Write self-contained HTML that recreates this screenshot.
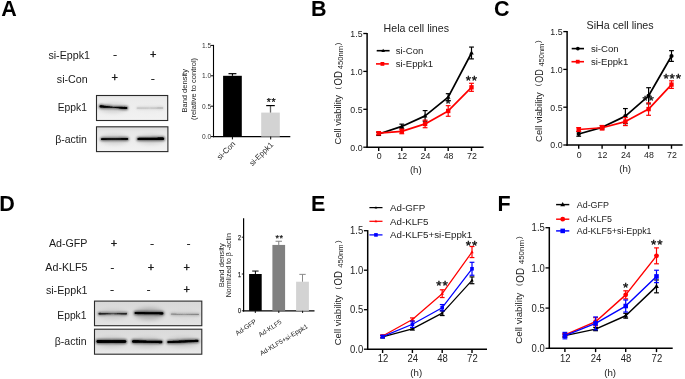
<!DOCTYPE html>
<html><head><meta charset="utf-8"><style>
html,body{margin:0;padding:0;background:#fff;overflow:hidden;width:685px;height:379px;}
svg{display:block;font-family:"Liberation Sans", sans-serif;will-change:transform;}
</style></head><body>
<svg width="685" height="379" viewBox="0 0 685 379">
<defs>
<linearGradient id="bgA1" x1="0" y1="0" x2="0" y2="1">
<stop offset="0" stop-color="#e2e2e2"/><stop offset="0.12" stop-color="#ebebeb"/><stop offset="1" stop-color="#f2f2f2"/>
</linearGradient>
<linearGradient id="bgA2" x1="0" y1="0" x2="0" y2="1">
<stop offset="0" stop-color="#dadada"/><stop offset="0.2" stop-color="#e7e7e7"/><stop offset="1" stop-color="#f2f2f2"/>
</linearGradient>
<linearGradient id="bgD1" x1="0" y1="0" x2="0" y2="1">
<stop offset="0" stop-color="#d8d8d8"/><stop offset="0.5" stop-color="#dedede"/><stop offset="1" stop-color="#e3e3e3"/>
</linearGradient>
<linearGradient id="bgD2" x1="0" y1="0" x2="0" y2="1">
<stop offset="0" stop-color="#dadada"/><stop offset="0.8" stop-color="#e3e3e3"/><stop offset="1" stop-color="#ebebeb"/>
</linearGradient>
<filter id="hb" x="-30%" y="-100%" width="160%" height="300%"><feGaussianBlur stdDeviation="2.2"/></filter>
<filter id="cb" x="-15%" y="-150%" width="130%" height="400%"><feGaussianBlur stdDeviation="0.45"/></filter>
<filter id="sb" x="-15%" y="-150%" width="130%" height="400%"><feGaussianBlur stdDeviation="1.1"/></filter>
<filter id="bl9" x="-20%" y="-200%" width="140%" height="500%"><feGaussianBlur stdDeviation="0.9"/></filter>
<filter id="bl6" x="-20%" y="-200%" width="140%" height="500%"><feGaussianBlur stdDeviation="0.6"/></filter>
<filter id="bl12" x="-20%" y="-200%" width="140%" height="500%"><feGaussianBlur stdDeviation="1.2"/></filter>
</defs>
<rect x="0" y="0" width="685" height="379" fill="#fff"/>
<text x="1.15" y="15.5" font-size="21.5" text-anchor="start" font-weight="bold" fill="#000">A</text>
<text x="310.9" y="15.5" font-size="21.5" text-anchor="start" font-weight="bold" fill="#000">B</text>
<text x="494.1" y="15.5" font-size="21.5" text-anchor="start" font-weight="bold" fill="#000">C</text>
<text x="-0.7" y="210.6" font-size="21.5" text-anchor="start" font-weight="bold" fill="#000">D</text>
<text x="310.9" y="210.7" font-size="21.5" text-anchor="start" font-weight="bold" fill="#000">E</text>
<text x="497.6" y="210.7" font-size="21.5" text-anchor="start" font-weight="bold" fill="#000">F</text>
<text x="48.4" y="59.3" font-size="10.7" text-anchor="start" font-weight="normal" fill="#1a1a1a">si-Eppk1</text>
<text x="56.8" y="82.6" font-size="10.7" text-anchor="start" font-weight="normal" fill="#1a1a1a">si-Con</text>
<text x="115" y="58.4" font-size="11" text-anchor="middle" font-weight="normal" fill="#1a1a1a" stroke="#1a1a1a" stroke-width="0.35">-</text>
<text x="153.1" y="58.0" font-size="11" text-anchor="middle" font-weight="normal" fill="#1a1a1a" stroke="#1a1a1a" stroke-width="0.35">+</text>
<text x="114.8" y="81.2" font-size="11" text-anchor="middle" font-weight="normal" fill="#1a1a1a" stroke="#1a1a1a" stroke-width="0.35">+</text>
<text x="152.8" y="81.6" font-size="11" text-anchor="middle" font-weight="normal" fill="#1a1a1a" stroke="#1a1a1a" stroke-width="0.35">-</text>
<text x="86.9" y="110.8" font-size="10.3" text-anchor="end" font-weight="normal" fill="#1a1a1a">Eppk1</text>
<text x="86.9" y="143.4" font-size="10.5" text-anchor="end" font-weight="normal" fill="#1a1a1a">β-actin</text>
<rect x="96.5" y="95.5" width="71.2" height="25" fill="url(#bgA1)" stroke="#2a2a2a" stroke-width="1.1"/>
<rect x="96.5" y="126.8" width="71.4" height="24.8" fill="url(#bgA2)" stroke="#2a2a2a" stroke-width="1.1"/>
<ellipse cx="113.44999999999999" cy="107.9" rx="14.350000000000001" ry="4.5" fill="#000" opacity="0.13" filter="url(#hb)"/>
<g fill="#000" opacity="0.55" filter="url(#sb)"><circle cx="100.60" cy="106.40" r="2.05"/><circle cx="101.28" cy="106.45" r="2.01"/><circle cx="101.95" cy="106.50" r="1.97"/><circle cx="102.63" cy="106.56" r="1.92"/><circle cx="103.31" cy="106.61" r="1.88"/><circle cx="103.98" cy="106.66" r="1.84"/><circle cx="104.66" cy="106.71" r="1.80"/><circle cx="105.33" cy="106.75" r="1.76"/><circle cx="106.01" cy="106.80" r="1.71"/><circle cx="106.69" cy="106.85" r="1.67"/><circle cx="107.36" cy="106.90" r="1.63"/><circle cx="108.04" cy="106.95" r="1.59"/><circle cx="108.72" cy="106.99" r="1.54"/><circle cx="109.39" cy="107.04" r="1.50"/><circle cx="110.07" cy="107.08" r="1.46"/><circle cx="110.74" cy="107.13" r="1.42"/><circle cx="111.42" cy="107.17" r="1.38"/><circle cx="112.10" cy="107.21" r="1.33"/><circle cx="112.77" cy="107.26" r="1.29"/><circle cx="113.45" cy="107.30" r="1.25"/><circle cx="114.13" cy="107.34" r="1.29"/><circle cx="114.80" cy="107.38" r="1.33"/><circle cx="115.48" cy="107.42" r="1.37"/><circle cx="116.16" cy="107.46" r="1.41"/><circle cx="116.83" cy="107.50" r="1.45"/><circle cx="117.51" cy="107.54" r="1.49"/><circle cx="118.18" cy="107.58" r="1.53"/><circle cx="118.86" cy="107.62" r="1.57"/><circle cx="119.54" cy="107.66" r="1.61"/><circle cx="120.21" cy="107.69" r="1.64"/><circle cx="120.89" cy="107.73" r="1.68"/><circle cx="121.57" cy="107.77" r="1.72"/><circle cx="122.24" cy="107.80" r="1.76"/><circle cx="122.92" cy="107.84" r="1.80"/><circle cx="123.59" cy="107.87" r="1.84"/><circle cx="124.27" cy="107.90" r="1.88"/><circle cx="124.95" cy="107.94" r="1.92"/><circle cx="125.62" cy="107.97" r="1.96"/><circle cx="126.30" cy="108.00" r="2.00"/></g>
<g fill="#000" opacity="1.0" filter="url(#cb)"><circle cx="100.60" cy="106.40" r="1.16"/><circle cx="101.28" cy="106.45" r="1.13"/><circle cx="101.95" cy="106.50" r="1.09"/><circle cx="102.63" cy="106.56" r="1.06"/><circle cx="103.31" cy="106.61" r="1.03"/><circle cx="103.98" cy="106.66" r="0.99"/><circle cx="104.66" cy="106.71" r="0.96"/><circle cx="105.33" cy="106.75" r="0.92"/><circle cx="106.01" cy="106.80" r="0.89"/><circle cx="106.69" cy="106.85" r="0.86"/><circle cx="107.36" cy="106.90" r="0.82"/><circle cx="108.04" cy="106.95" r="0.79"/><circle cx="108.72" cy="106.99" r="0.76"/><circle cx="109.39" cy="107.04" r="0.72"/><circle cx="110.07" cy="107.08" r="0.69"/><circle cx="110.74" cy="107.13" r="0.65"/><circle cx="111.42" cy="107.17" r="0.62"/><circle cx="112.10" cy="107.21" r="0.59"/><circle cx="112.77" cy="107.26" r="0.55"/><circle cx="113.45" cy="107.30" r="0.52"/><circle cx="114.13" cy="107.34" r="0.55"/><circle cx="114.80" cy="107.38" r="0.58"/><circle cx="115.48" cy="107.42" r="0.61"/><circle cx="116.16" cy="107.46" r="0.65"/><circle cx="116.83" cy="107.50" r="0.68"/><circle cx="117.51" cy="107.54" r="0.71"/><circle cx="118.18" cy="107.58" r="0.74"/><circle cx="118.86" cy="107.62" r="0.77"/><circle cx="119.54" cy="107.66" r="0.80"/><circle cx="120.21" cy="107.69" r="0.84"/><circle cx="120.89" cy="107.73" r="0.87"/><circle cx="121.57" cy="107.77" r="0.90"/><circle cx="122.24" cy="107.80" r="0.93"/><circle cx="122.92" cy="107.84" r="0.96"/><circle cx="123.59" cy="107.87" r="0.99"/><circle cx="124.27" cy="107.90" r="1.03"/><circle cx="124.95" cy="107.94" r="1.06"/><circle cx="125.62" cy="107.97" r="1.09"/><circle cx="126.30" cy="108.00" r="1.12"/></g>
<ellipse cx="149.9" cy="108.5" rx="14.099999999999994" ry="4.5" fill="#000" opacity="0.0096" filter="url(#hb)"/>
<g fill="#000" opacity="0.08800000000000001" filter="url(#sb)"><circle cx="137.30" cy="108.00" r="1.35"/><circle cx="137.98" cy="108.00" r="1.34"/><circle cx="138.66" cy="108.00" r="1.33"/><circle cx="139.34" cy="108.00" r="1.33"/><circle cx="140.02" cy="108.00" r="1.32"/><circle cx="140.71" cy="108.00" r="1.31"/><circle cx="141.39" cy="108.00" r="1.30"/><circle cx="142.07" cy="108.00" r="1.29"/><circle cx="142.75" cy="108.00" r="1.29"/><circle cx="143.43" cy="108.00" r="1.28"/><circle cx="144.11" cy="108.00" r="1.27"/><circle cx="144.79" cy="108.00" r="1.26"/><circle cx="145.47" cy="108.00" r="1.25"/><circle cx="146.15" cy="108.00" r="1.24"/><circle cx="146.84" cy="108.00" r="1.24"/><circle cx="147.52" cy="108.00" r="1.23"/><circle cx="148.20" cy="108.00" r="1.22"/><circle cx="148.88" cy="108.00" r="1.21"/><circle cx="149.56" cy="108.00" r="1.20"/><circle cx="150.24" cy="108.00" r="1.21"/><circle cx="150.92" cy="108.00" r="1.22"/><circle cx="151.60" cy="108.00" r="1.24"/><circle cx="152.28" cy="108.00" r="1.26"/><circle cx="152.96" cy="108.00" r="1.27"/><circle cx="153.65" cy="108.00" r="1.29"/><circle cx="154.33" cy="108.00" r="1.31"/><circle cx="155.01" cy="108.00" r="1.32"/><circle cx="155.69" cy="108.00" r="1.34"/><circle cx="156.37" cy="108.00" r="1.35"/><circle cx="157.05" cy="108.00" r="1.37"/><circle cx="157.73" cy="108.00" r="1.39"/><circle cx="158.41" cy="108.00" r="1.40"/><circle cx="159.09" cy="108.00" r="1.42"/><circle cx="159.78" cy="108.00" r="1.44"/><circle cx="160.46" cy="108.00" r="1.45"/><circle cx="161.14" cy="108.00" r="1.47"/><circle cx="161.82" cy="108.00" r="1.48"/><circle cx="162.50" cy="108.00" r="1.50"/></g>
<g fill="#000" opacity="0.16" filter="url(#cb)"><circle cx="137.30" cy="108.00" r="0.60"/><circle cx="137.98" cy="108.00" r="0.59"/><circle cx="138.66" cy="108.00" r="0.59"/><circle cx="139.34" cy="108.00" r="0.58"/><circle cx="140.02" cy="108.00" r="0.57"/><circle cx="140.71" cy="108.00" r="0.57"/><circle cx="141.39" cy="108.00" r="0.56"/><circle cx="142.07" cy="108.00" r="0.55"/><circle cx="142.75" cy="108.00" r="0.55"/><circle cx="143.43" cy="108.00" r="0.54"/><circle cx="144.11" cy="108.00" r="0.54"/><circle cx="144.79" cy="108.00" r="0.53"/><circle cx="145.47" cy="108.00" r="0.52"/><circle cx="146.15" cy="108.00" r="0.52"/><circle cx="146.84" cy="108.00" r="0.51"/><circle cx="147.52" cy="108.00" r="0.50"/><circle cx="148.20" cy="108.00" r="0.50"/><circle cx="148.88" cy="108.00" r="0.49"/><circle cx="149.56" cy="108.00" r="0.48"/><circle cx="150.24" cy="108.00" r="0.49"/><circle cx="150.92" cy="108.00" r="0.50"/><circle cx="151.60" cy="108.00" r="0.51"/><circle cx="152.28" cy="108.00" r="0.53"/><circle cx="152.96" cy="108.00" r="0.54"/><circle cx="153.65" cy="108.00" r="0.55"/><circle cx="154.33" cy="108.00" r="0.56"/><circle cx="155.01" cy="108.00" r="0.58"/><circle cx="155.69" cy="108.00" r="0.59"/><circle cx="156.37" cy="108.00" r="0.60"/><circle cx="157.05" cy="108.00" r="0.62"/><circle cx="157.73" cy="108.00" r="0.63"/><circle cx="158.41" cy="108.00" r="0.64"/><circle cx="159.09" cy="108.00" r="0.66"/><circle cx="159.78" cy="108.00" r="0.67"/><circle cx="160.46" cy="108.00" r="0.68"/><circle cx="161.14" cy="108.00" r="0.69"/><circle cx="161.82" cy="108.00" r="0.71"/><circle cx="162.50" cy="108.00" r="0.72"/></g>
<ellipse cx="114.55" cy="139.5" rx="14.25" ry="4.5" fill="#000" opacity="0.13" filter="url(#hb)"/>
<g fill="#000" opacity="0.55" filter="url(#sb)"><circle cx="101.80" cy="139.10" r="1.70"/><circle cx="102.47" cy="139.09" r="1.69"/><circle cx="103.14" cy="139.09" r="1.68"/><circle cx="103.81" cy="139.08" r="1.67"/><circle cx="104.48" cy="139.08" r="1.66"/><circle cx="105.16" cy="139.07" r="1.65"/><circle cx="105.83" cy="139.07" r="1.64"/><circle cx="106.50" cy="139.06" r="1.63"/><circle cx="107.17" cy="139.06" r="1.62"/><circle cx="107.84" cy="139.05" r="1.61"/><circle cx="108.51" cy="139.05" r="1.59"/><circle cx="109.18" cy="139.04" r="1.58"/><circle cx="109.85" cy="139.04" r="1.57"/><circle cx="110.52" cy="139.03" r="1.56"/><circle cx="111.19" cy="139.03" r="1.55"/><circle cx="111.87" cy="139.02" r="1.54"/><circle cx="112.54" cy="139.02" r="1.53"/><circle cx="113.21" cy="139.01" r="1.52"/><circle cx="113.88" cy="139.01" r="1.51"/><circle cx="114.55" cy="139.00" r="1.50"/><circle cx="115.22" cy="138.99" r="1.51"/><circle cx="115.89" cy="138.99" r="1.53"/><circle cx="116.56" cy="138.98" r="1.54"/><circle cx="117.23" cy="138.98" r="1.55"/><circle cx="117.91" cy="138.97" r="1.57"/><circle cx="118.58" cy="138.97" r="1.58"/><circle cx="119.25" cy="138.96" r="1.59"/><circle cx="119.92" cy="138.96" r="1.61"/><circle cx="120.59" cy="138.95" r="1.62"/><circle cx="121.26" cy="138.95" r="1.63"/><circle cx="121.93" cy="138.94" r="1.64"/><circle cx="122.60" cy="138.94" r="1.66"/><circle cx="123.27" cy="138.93" r="1.67"/><circle cx="123.94" cy="138.93" r="1.68"/><circle cx="124.62" cy="138.92" r="1.70"/><circle cx="125.29" cy="138.92" r="1.71"/><circle cx="125.96" cy="138.91" r="1.72"/><circle cx="126.63" cy="138.91" r="1.74"/><circle cx="127.30" cy="138.90" r="1.75"/></g>
<g fill="#000" opacity="1.0" filter="url(#cb)"><circle cx="101.80" cy="139.10" r="0.88"/><circle cx="102.47" cy="139.09" r="0.87"/><circle cx="103.14" cy="139.09" r="0.86"/><circle cx="103.81" cy="139.08" r="0.85"/><circle cx="104.48" cy="139.08" r="0.85"/><circle cx="105.16" cy="139.07" r="0.84"/><circle cx="105.83" cy="139.07" r="0.83"/><circle cx="106.50" cy="139.06" r="0.82"/><circle cx="107.17" cy="139.06" r="0.81"/><circle cx="107.84" cy="139.05" r="0.80"/><circle cx="108.51" cy="139.05" r="0.80"/><circle cx="109.18" cy="139.04" r="0.79"/><circle cx="109.85" cy="139.04" r="0.78"/><circle cx="110.52" cy="139.03" r="0.77"/><circle cx="111.19" cy="139.03" r="0.76"/><circle cx="111.87" cy="139.02" r="0.75"/><circle cx="112.54" cy="139.02" r="0.75"/><circle cx="113.21" cy="139.01" r="0.74"/><circle cx="113.88" cy="139.01" r="0.73"/><circle cx="114.55" cy="139.00" r="0.72"/><circle cx="115.22" cy="138.99" r="0.73"/><circle cx="115.89" cy="138.99" r="0.74"/><circle cx="116.56" cy="138.98" r="0.75"/><circle cx="117.23" cy="138.98" r="0.76"/><circle cx="117.91" cy="138.97" r="0.77"/><circle cx="118.58" cy="138.97" r="0.78"/><circle cx="119.25" cy="138.96" r="0.79"/><circle cx="119.92" cy="138.96" r="0.80"/><circle cx="120.59" cy="138.95" r="0.81"/><circle cx="121.26" cy="138.95" r="0.83"/><circle cx="121.93" cy="138.94" r="0.84"/><circle cx="122.60" cy="138.94" r="0.85"/><circle cx="123.27" cy="138.93" r="0.86"/><circle cx="123.94" cy="138.93" r="0.87"/><circle cx="124.62" cy="138.92" r="0.88"/><circle cx="125.29" cy="138.92" r="0.89"/><circle cx="125.96" cy="138.91" r="0.90"/><circle cx="126.63" cy="138.91" r="0.91"/><circle cx="127.30" cy="138.90" r="0.92"/></g>
<ellipse cx="150.65" cy="139.4" rx="13.75" ry="4.5" fill="#000" opacity="0.13" filter="url(#hb)"/>
<g fill="#000" opacity="0.55" filter="url(#sb)"><circle cx="138.40" cy="139.00" r="2.00"/><circle cx="139.08" cy="138.99" r="2.00"/><circle cx="139.76" cy="138.99" r="2.00"/><circle cx="140.44" cy="138.98" r="2.00"/><circle cx="141.12" cy="138.98" r="2.00"/><circle cx="141.80" cy="138.97" r="2.00"/><circle cx="142.48" cy="138.97" r="2.00"/><circle cx="143.16" cy="138.96" r="2.00"/><circle cx="143.84" cy="138.96" r="2.00"/><circle cx="144.53" cy="138.95" r="2.00"/><circle cx="145.21" cy="138.94" r="2.00"/><circle cx="145.89" cy="138.94" r="2.00"/><circle cx="146.57" cy="138.93" r="2.00"/><circle cx="147.25" cy="138.93" r="2.00"/><circle cx="147.93" cy="138.92" r="2.00"/><circle cx="148.61" cy="138.92" r="2.00"/><circle cx="149.29" cy="138.91" r="2.00"/><circle cx="149.97" cy="138.91" r="2.00"/><circle cx="150.65" cy="138.90" r="2.00"/><circle cx="151.33" cy="138.89" r="2.01"/><circle cx="152.01" cy="138.89" r="2.02"/><circle cx="152.69" cy="138.88" r="2.03"/><circle cx="153.37" cy="138.88" r="2.04"/><circle cx="154.05" cy="138.87" r="2.06"/><circle cx="154.73" cy="138.87" r="2.07"/><circle cx="155.41" cy="138.86" r="2.08"/><circle cx="156.09" cy="138.86" r="2.09"/><circle cx="156.78" cy="138.85" r="2.10"/><circle cx="157.46" cy="138.84" r="2.11"/><circle cx="158.14" cy="138.84" r="2.12"/><circle cx="158.82" cy="138.83" r="2.13"/><circle cx="159.50" cy="138.83" r="2.14"/><circle cx="160.18" cy="138.82" r="2.16"/><circle cx="160.86" cy="138.82" r="2.17"/><circle cx="161.54" cy="138.81" r="2.18"/><circle cx="162.22" cy="138.81" r="2.19"/><circle cx="162.90" cy="138.80" r="2.20"/></g>
<g fill="#000" opacity="1.0" filter="url(#cb)"><circle cx="138.40" cy="139.00" r="1.12"/><circle cx="139.08" cy="138.99" r="1.12"/><circle cx="139.76" cy="138.99" r="1.12"/><circle cx="140.44" cy="138.98" r="1.12"/><circle cx="141.12" cy="138.98" r="1.12"/><circle cx="141.80" cy="138.97" r="1.12"/><circle cx="142.48" cy="138.97" r="1.12"/><circle cx="143.16" cy="138.96" r="1.12"/><circle cx="143.84" cy="138.96" r="1.12"/><circle cx="144.53" cy="138.95" r="1.12"/><circle cx="145.21" cy="138.94" r="1.12"/><circle cx="145.89" cy="138.94" r="1.12"/><circle cx="146.57" cy="138.93" r="1.12"/><circle cx="147.25" cy="138.93" r="1.12"/><circle cx="147.93" cy="138.92" r="1.12"/><circle cx="148.61" cy="138.92" r="1.12"/><circle cx="149.29" cy="138.91" r="1.12"/><circle cx="149.97" cy="138.91" r="1.12"/><circle cx="150.65" cy="138.90" r="1.12"/><circle cx="151.33" cy="138.89" r="1.13"/><circle cx="152.01" cy="138.89" r="1.14"/><circle cx="152.69" cy="138.88" r="1.15"/><circle cx="153.37" cy="138.88" r="1.16"/><circle cx="154.05" cy="138.87" r="1.16"/><circle cx="154.73" cy="138.87" r="1.17"/><circle cx="155.41" cy="138.86" r="1.18"/><circle cx="156.09" cy="138.86" r="1.19"/><circle cx="156.78" cy="138.85" r="1.20"/><circle cx="157.46" cy="138.84" r="1.21"/><circle cx="158.14" cy="138.84" r="1.22"/><circle cx="158.82" cy="138.83" r="1.23"/><circle cx="159.50" cy="138.83" r="1.24"/><circle cx="160.18" cy="138.82" r="1.24"/><circle cx="160.86" cy="138.82" r="1.25"/><circle cx="161.54" cy="138.81" r="1.26"/><circle cx="162.22" cy="138.81" r="1.27"/><circle cx="162.90" cy="138.80" r="1.28"/></g>
<text x="87.5" y="247.3" font-size="10.7" text-anchor="end" font-weight="normal" fill="#1a1a1a">Ad-GFP</text>
<text x="87.5" y="270.9" font-size="10.7" text-anchor="end" font-weight="normal" fill="#1a1a1a">Ad-KLF5</text>
<text x="87.5" y="293.6" font-size="10.7" text-anchor="end" font-weight="normal" fill="#1a1a1a">si-Eppk1</text>
<text x="114" y="246.9" font-size="11" text-anchor="middle" font-weight="normal" fill="#1a1a1a" stroke="#1a1a1a" stroke-width="0.35">+</text>
<text x="152" y="246.9" font-size="11" text-anchor="middle" font-weight="normal" fill="#1a1a1a" stroke="#1a1a1a" stroke-width="0.35">-</text>
<text x="188.7" y="246.9" font-size="11" text-anchor="middle" font-weight="normal" fill="#1a1a1a" stroke="#1a1a1a" stroke-width="0.35">-</text>
<text x="112.4" y="270.5" font-size="11" text-anchor="middle" font-weight="normal" fill="#1a1a1a" stroke="#1a1a1a" stroke-width="0.35">-</text>
<text x="150.9" y="270.5" font-size="11" text-anchor="middle" font-weight="normal" fill="#1a1a1a" stroke="#1a1a1a" stroke-width="0.35">+</text>
<text x="186.6" y="270.5" font-size="11" text-anchor="middle" font-weight="normal" fill="#1a1a1a" stroke="#1a1a1a" stroke-width="0.35">+</text>
<text x="112" y="293.20000000000005" font-size="11" text-anchor="middle" font-weight="normal" fill="#1a1a1a" stroke="#1a1a1a" stroke-width="0.35">-</text>
<text x="148.7" y="293.20000000000005" font-size="11" text-anchor="middle" font-weight="normal" fill="#1a1a1a" stroke="#1a1a1a" stroke-width="0.35">-</text>
<text x="186.8" y="293.20000000000005" font-size="11" text-anchor="middle" font-weight="normal" fill="#1a1a1a" stroke="#1a1a1a" stroke-width="0.35">+</text>
<text x="86.5" y="319.2" font-size="10.3" text-anchor="end" font-weight="normal" fill="#1a1a1a">Eppk1</text>
<text x="86.5" y="345.4" font-size="10.5" text-anchor="end" font-weight="normal" fill="#1a1a1a">β-actin</text>
<rect x="94.5" y="301.1" width="107.3" height="24.6" fill="url(#bgD1)" stroke="#2a2a2a" stroke-width="1.1"/>
<rect x="94.5" y="329.2" width="107.3" height="25" fill="url(#bgD2)" stroke="#2a2a2a" stroke-width="1.1"/>
<ellipse cx="112.75" cy="314.2" rx="14.950000000000003" ry="4.5" fill="#000" opacity="0.0975" filter="url(#hb)"/>
<g fill="#000" opacity="0.41250000000000003" filter="url(#sb)"><circle cx="99.30" cy="313.70" r="1.70"/><circle cx="99.97" cy="313.70" r="1.67"/><circle cx="100.64" cy="313.70" r="1.65"/><circle cx="101.32" cy="313.70" r="1.62"/><circle cx="101.99" cy="313.70" r="1.59"/><circle cx="102.66" cy="313.70" r="1.56"/><circle cx="103.33" cy="313.70" r="1.54"/><circle cx="104.01" cy="313.70" r="1.51"/><circle cx="104.68" cy="313.70" r="1.48"/><circle cx="105.35" cy="313.70" r="1.45"/><circle cx="106.03" cy="313.70" r="1.43"/><circle cx="106.70" cy="313.70" r="1.40"/><circle cx="107.37" cy="313.70" r="1.37"/><circle cx="108.04" cy="313.70" r="1.34"/><circle cx="108.72" cy="313.70" r="1.31"/><circle cx="109.39" cy="313.70" r="1.29"/><circle cx="110.06" cy="313.70" r="1.26"/><circle cx="110.73" cy="313.70" r="1.23"/><circle cx="111.41" cy="313.70" r="1.21"/><circle cx="112.08" cy="313.70" r="1.18"/><circle cx="112.75" cy="313.70" r="1.15"/><circle cx="113.42" cy="313.70" r="1.18"/><circle cx="114.09" cy="313.70" r="1.20"/><circle cx="114.77" cy="313.70" r="1.23"/><circle cx="115.44" cy="313.70" r="1.25"/><circle cx="116.11" cy="313.70" r="1.27"/><circle cx="116.78" cy="313.70" r="1.30"/><circle cx="117.46" cy="313.70" r="1.33"/><circle cx="118.13" cy="313.70" r="1.35"/><circle cx="118.80" cy="313.70" r="1.38"/><circle cx="119.47" cy="313.70" r="1.40"/><circle cx="120.15" cy="313.70" r="1.43"/><circle cx="120.82" cy="313.70" r="1.45"/><circle cx="121.49" cy="313.70" r="1.48"/><circle cx="122.17" cy="313.70" r="1.50"/><circle cx="122.84" cy="313.70" r="1.52"/><circle cx="123.51" cy="313.70" r="1.55"/><circle cx="124.18" cy="313.70" r="1.58"/><circle cx="124.86" cy="313.70" r="1.60"/><circle cx="125.53" cy="313.70" r="1.62"/><circle cx="126.20" cy="313.70" r="1.65"/></g>
<g fill="#000" opacity="0.75" filter="url(#cb)"><circle cx="99.30" cy="313.70" r="0.88"/><circle cx="99.97" cy="313.70" r="0.86"/><circle cx="100.64" cy="313.70" r="0.84"/><circle cx="101.32" cy="313.70" r="0.81"/><circle cx="101.99" cy="313.70" r="0.79"/><circle cx="102.66" cy="313.70" r="0.77"/><circle cx="103.33" cy="313.70" r="0.75"/><circle cx="104.01" cy="313.70" r="0.73"/><circle cx="104.68" cy="313.70" r="0.70"/><circle cx="105.35" cy="313.70" r="0.68"/><circle cx="106.03" cy="313.70" r="0.66"/><circle cx="106.70" cy="313.70" r="0.64"/><circle cx="107.37" cy="313.70" r="0.62"/><circle cx="108.04" cy="313.70" r="0.59"/><circle cx="108.72" cy="313.70" r="0.57"/><circle cx="109.39" cy="313.70" r="0.55"/><circle cx="110.06" cy="313.70" r="0.53"/><circle cx="110.73" cy="313.70" r="0.51"/><circle cx="111.41" cy="313.70" r="0.48"/><circle cx="112.08" cy="313.70" r="0.46"/><circle cx="112.75" cy="313.70" r="0.44"/><circle cx="113.42" cy="313.70" r="0.46"/><circle cx="114.09" cy="313.70" r="0.48"/><circle cx="114.77" cy="313.70" r="0.50"/><circle cx="115.44" cy="313.70" r="0.52"/><circle cx="116.11" cy="313.70" r="0.54"/><circle cx="116.78" cy="313.70" r="0.56"/><circle cx="117.46" cy="313.70" r="0.58"/><circle cx="118.13" cy="313.70" r="0.60"/><circle cx="118.80" cy="313.70" r="0.62"/><circle cx="119.47" cy="313.70" r="0.64"/><circle cx="120.15" cy="313.70" r="0.66"/><circle cx="120.82" cy="313.70" r="0.68"/><circle cx="121.49" cy="313.70" r="0.70"/><circle cx="122.17" cy="313.70" r="0.72"/><circle cx="122.84" cy="313.70" r="0.74"/><circle cx="123.51" cy="313.70" r="0.76"/><circle cx="124.18" cy="313.70" r="0.78"/><circle cx="124.86" cy="313.70" r="0.80"/><circle cx="125.53" cy="313.70" r="0.82"/><circle cx="126.20" cy="313.70" r="0.84"/></g>
<ellipse cx="149.0" cy="313.7" rx="14.900000000000006" ry="6" fill="#000" opacity="0.22" filter="url(#hb)"/>
<g fill="#000" opacity="0.55" filter="url(#sb)"><circle cx="135.60" cy="313.00" r="2.00"/><circle cx="136.27" cy="313.01" r="1.99"/><circle cx="136.94" cy="313.02" r="1.98"/><circle cx="137.61" cy="313.03" r="1.97"/><circle cx="138.28" cy="313.04" r="1.96"/><circle cx="138.95" cy="313.05" r="1.95"/><circle cx="139.62" cy="313.06" r="1.94"/><circle cx="140.29" cy="313.07" r="1.93"/><circle cx="140.96" cy="313.08" r="1.92"/><circle cx="141.63" cy="313.09" r="1.91"/><circle cx="142.30" cy="313.10" r="1.90"/><circle cx="142.97" cy="313.11" r="1.89"/><circle cx="143.64" cy="313.12" r="1.88"/><circle cx="144.31" cy="313.13" r="1.87"/><circle cx="144.98" cy="313.14" r="1.86"/><circle cx="145.65" cy="313.15" r="1.85"/><circle cx="146.32" cy="313.16" r="1.84"/><circle cx="146.99" cy="313.17" r="1.83"/><circle cx="147.66" cy="313.18" r="1.82"/><circle cx="148.33" cy="313.19" r="1.81"/><circle cx="149.00" cy="313.20" r="1.80"/><circle cx="149.67" cy="313.21" r="1.81"/><circle cx="150.34" cy="313.22" r="1.81"/><circle cx="151.01" cy="313.23" r="1.81"/><circle cx="151.68" cy="313.24" r="1.82"/><circle cx="152.35" cy="313.25" r="1.83"/><circle cx="153.02" cy="313.26" r="1.83"/><circle cx="153.69" cy="313.27" r="1.83"/><circle cx="154.36" cy="313.28" r="1.84"/><circle cx="155.03" cy="313.29" r="1.84"/><circle cx="155.70" cy="313.30" r="1.85"/><circle cx="156.37" cy="313.31" r="1.85"/><circle cx="157.04" cy="313.32" r="1.86"/><circle cx="157.71" cy="313.33" r="1.86"/><circle cx="158.38" cy="313.34" r="1.87"/><circle cx="159.05" cy="313.35" r="1.88"/><circle cx="159.72" cy="313.36" r="1.88"/><circle cx="160.39" cy="313.37" r="1.89"/><circle cx="161.06" cy="313.38" r="1.89"/><circle cx="161.73" cy="313.39" r="1.90"/><circle cx="162.40" cy="313.40" r="1.90"/></g>
<g fill="#000" opacity="1.0" filter="url(#cb)"><circle cx="135.60" cy="313.00" r="1.12"/><circle cx="136.27" cy="313.01" r="1.11"/><circle cx="136.94" cy="313.02" r="1.10"/><circle cx="137.61" cy="313.03" r="1.10"/><circle cx="138.28" cy="313.04" r="1.09"/><circle cx="138.95" cy="313.05" r="1.08"/><circle cx="139.62" cy="313.06" r="1.07"/><circle cx="140.29" cy="313.07" r="1.06"/><circle cx="140.96" cy="313.08" r="1.06"/><circle cx="141.63" cy="313.09" r="1.05"/><circle cx="142.30" cy="313.10" r="1.04"/><circle cx="142.97" cy="313.11" r="1.03"/><circle cx="143.64" cy="313.12" r="1.02"/><circle cx="144.31" cy="313.13" r="1.02"/><circle cx="144.98" cy="313.14" r="1.01"/><circle cx="145.65" cy="313.15" r="1.00"/><circle cx="146.32" cy="313.16" r="0.99"/><circle cx="146.99" cy="313.17" r="0.98"/><circle cx="147.66" cy="313.18" r="0.98"/><circle cx="148.33" cy="313.19" r="0.97"/><circle cx="149.00" cy="313.20" r="0.96"/><circle cx="149.67" cy="313.21" r="0.96"/><circle cx="150.34" cy="313.22" r="0.97"/><circle cx="151.01" cy="313.23" r="0.97"/><circle cx="151.68" cy="313.24" r="0.98"/><circle cx="152.35" cy="313.25" r="0.98"/><circle cx="153.02" cy="313.26" r="0.98"/><circle cx="153.69" cy="313.27" r="0.99"/><circle cx="154.36" cy="313.28" r="0.99"/><circle cx="155.03" cy="313.29" r="1.00"/><circle cx="155.70" cy="313.30" r="1.00"/><circle cx="156.37" cy="313.31" r="1.00"/><circle cx="157.04" cy="313.32" r="1.01"/><circle cx="157.71" cy="313.33" r="1.01"/><circle cx="158.38" cy="313.34" r="1.02"/><circle cx="159.05" cy="313.35" r="1.02"/><circle cx="159.72" cy="313.36" r="1.02"/><circle cx="160.39" cy="313.37" r="1.03"/><circle cx="161.06" cy="313.38" r="1.03"/><circle cx="161.73" cy="313.39" r="1.04"/><circle cx="162.40" cy="313.40" r="1.04"/></g>
<ellipse cx="184.85000000000002" cy="314.75" rx="14.950000000000003" ry="4.5" fill="#000" opacity="0.024" filter="url(#hb)"/>
<g fill="#000" opacity="0.165" filter="url(#sb)"><circle cx="171.40" cy="314.10" r="1.30"/><circle cx="172.07" cy="314.11" r="1.29"/><circle cx="172.75" cy="314.12" r="1.29"/><circle cx="173.42" cy="314.12" r="1.28"/><circle cx="174.09" cy="314.13" r="1.28"/><circle cx="174.76" cy="314.14" r="1.27"/><circle cx="175.44" cy="314.14" r="1.27"/><circle cx="176.11" cy="314.15" r="1.26"/><circle cx="176.78" cy="314.16" r="1.26"/><circle cx="177.45" cy="314.17" r="1.25"/><circle cx="178.12" cy="314.17" r="1.25"/><circle cx="178.80" cy="314.18" r="1.25"/><circle cx="179.47" cy="314.19" r="1.24"/><circle cx="180.14" cy="314.20" r="1.23"/><circle cx="180.81" cy="314.21" r="1.23"/><circle cx="181.49" cy="314.21" r="1.23"/><circle cx="182.16" cy="314.22" r="1.22"/><circle cx="182.83" cy="314.23" r="1.21"/><circle cx="183.50" cy="314.24" r="1.21"/><circle cx="184.18" cy="314.24" r="1.21"/><circle cx="184.85" cy="314.25" r="1.20"/><circle cx="185.52" cy="314.26" r="1.21"/><circle cx="186.20" cy="314.26" r="1.23"/><circle cx="186.87" cy="314.27" r="1.24"/><circle cx="187.54" cy="314.28" r="1.25"/><circle cx="188.21" cy="314.29" r="1.26"/><circle cx="188.89" cy="314.29" r="1.27"/><circle cx="189.56" cy="314.30" r="1.29"/><circle cx="190.23" cy="314.31" r="1.30"/><circle cx="190.90" cy="314.32" r="1.31"/><circle cx="191.58" cy="314.32" r="1.32"/><circle cx="192.25" cy="314.33" r="1.34"/><circle cx="192.92" cy="314.34" r="1.35"/><circle cx="193.59" cy="314.35" r="1.36"/><circle cx="194.27" cy="314.35" r="1.38"/><circle cx="194.94" cy="314.36" r="1.39"/><circle cx="195.61" cy="314.37" r="1.40"/><circle cx="196.28" cy="314.38" r="1.41"/><circle cx="196.96" cy="314.38" r="1.42"/><circle cx="197.63" cy="314.39" r="1.44"/><circle cx="198.30" cy="314.40" r="1.45"/></g>
<g fill="#000" opacity="0.3" filter="url(#cb)"><circle cx="171.40" cy="314.10" r="0.56"/><circle cx="172.07" cy="314.11" r="0.56"/><circle cx="172.75" cy="314.12" r="0.55"/><circle cx="173.42" cy="314.12" r="0.55"/><circle cx="174.09" cy="314.13" r="0.54"/><circle cx="174.76" cy="314.14" r="0.54"/><circle cx="175.44" cy="314.14" r="0.54"/><circle cx="176.11" cy="314.15" r="0.53"/><circle cx="176.78" cy="314.16" r="0.53"/><circle cx="177.45" cy="314.17" r="0.52"/><circle cx="178.12" cy="314.17" r="0.52"/><circle cx="178.80" cy="314.18" r="0.52"/><circle cx="179.47" cy="314.19" r="0.51"/><circle cx="180.14" cy="314.20" r="0.51"/><circle cx="180.81" cy="314.21" r="0.50"/><circle cx="181.49" cy="314.21" r="0.50"/><circle cx="182.16" cy="314.22" r="0.50"/><circle cx="182.83" cy="314.23" r="0.49"/><circle cx="183.50" cy="314.24" r="0.49"/><circle cx="184.18" cy="314.24" r="0.48"/><circle cx="184.85" cy="314.25" r="0.48"/><circle cx="185.52" cy="314.26" r="0.49"/><circle cx="186.20" cy="314.26" r="0.50"/><circle cx="186.87" cy="314.27" r="0.51"/><circle cx="187.54" cy="314.28" r="0.52"/><circle cx="188.21" cy="314.29" r="0.53"/><circle cx="188.89" cy="314.29" r="0.54"/><circle cx="189.56" cy="314.30" r="0.55"/><circle cx="190.23" cy="314.31" r="0.56"/><circle cx="190.90" cy="314.32" r="0.57"/><circle cx="191.58" cy="314.32" r="0.58"/><circle cx="192.25" cy="314.33" r="0.59"/><circle cx="192.92" cy="314.34" r="0.60"/><circle cx="193.59" cy="314.35" r="0.61"/><circle cx="194.27" cy="314.35" r="0.62"/><circle cx="194.94" cy="314.36" r="0.63"/><circle cx="195.61" cy="314.37" r="0.64"/><circle cx="196.28" cy="314.38" r="0.65"/><circle cx="196.96" cy="314.38" r="0.66"/><circle cx="197.63" cy="314.39" r="0.67"/><circle cx="198.30" cy="314.40" r="0.68"/></g>
<ellipse cx="111.45" cy="342.0" rx="15.049999999999997" ry="4.5" fill="#000" opacity="0.13" filter="url(#hb)"/>
<g fill="#000" opacity="0.55" filter="url(#sb)"><circle cx="97.90" cy="341.50" r="2.40"/><circle cx="98.58" cy="341.50" r="2.39"/><circle cx="99.26" cy="341.50" r="2.37"/><circle cx="99.93" cy="341.50" r="2.35"/><circle cx="100.61" cy="341.50" r="2.34"/><circle cx="101.29" cy="341.50" r="2.33"/><circle cx="101.97" cy="341.50" r="2.31"/><circle cx="102.64" cy="341.50" r="2.29"/><circle cx="103.32" cy="341.50" r="2.28"/><circle cx="104.00" cy="341.50" r="2.27"/><circle cx="104.68" cy="341.50" r="2.25"/><circle cx="105.35" cy="341.50" r="2.23"/><circle cx="106.03" cy="341.50" r="2.22"/><circle cx="106.71" cy="341.50" r="2.21"/><circle cx="107.39" cy="341.50" r="2.19"/><circle cx="108.06" cy="341.50" r="2.17"/><circle cx="108.74" cy="341.50" r="2.16"/><circle cx="109.42" cy="341.50" r="2.15"/><circle cx="110.09" cy="341.50" r="2.13"/><circle cx="110.77" cy="341.50" r="2.12"/><circle cx="111.45" cy="341.50" r="2.10"/><circle cx="112.13" cy="341.50" r="2.11"/><circle cx="112.81" cy="341.50" r="2.12"/><circle cx="113.48" cy="341.50" r="2.13"/><circle cx="114.16" cy="341.50" r="2.14"/><circle cx="114.84" cy="341.50" r="2.15"/><circle cx="115.52" cy="341.50" r="2.16"/><circle cx="116.19" cy="341.50" r="2.17"/><circle cx="116.87" cy="341.50" r="2.18"/><circle cx="117.55" cy="341.50" r="2.19"/><circle cx="118.22" cy="341.50" r="2.20"/><circle cx="118.90" cy="341.50" r="2.21"/><circle cx="119.58" cy="341.50" r="2.22"/><circle cx="120.26" cy="341.50" r="2.23"/><circle cx="120.94" cy="341.50" r="2.24"/><circle cx="121.61" cy="341.50" r="2.25"/><circle cx="122.29" cy="341.50" r="2.26"/><circle cx="122.97" cy="341.50" r="2.27"/><circle cx="123.64" cy="341.50" r="2.28"/><circle cx="124.32" cy="341.50" r="2.29"/><circle cx="125.00" cy="341.50" r="2.30"/></g>
<g fill="#000" opacity="1.0" filter="url(#cb)"><circle cx="97.90" cy="341.50" r="1.44"/><circle cx="98.58" cy="341.50" r="1.43"/><circle cx="99.26" cy="341.50" r="1.42"/><circle cx="99.93" cy="341.50" r="1.40"/><circle cx="100.61" cy="341.50" r="1.39"/><circle cx="101.29" cy="341.50" r="1.38"/><circle cx="101.97" cy="341.50" r="1.37"/><circle cx="102.64" cy="341.50" r="1.36"/><circle cx="103.32" cy="341.50" r="1.34"/><circle cx="104.00" cy="341.50" r="1.33"/><circle cx="104.68" cy="341.50" r="1.32"/><circle cx="105.35" cy="341.50" r="1.31"/><circle cx="106.03" cy="341.50" r="1.30"/><circle cx="106.71" cy="341.50" r="1.28"/><circle cx="107.39" cy="341.50" r="1.27"/><circle cx="108.06" cy="341.50" r="1.26"/><circle cx="108.74" cy="341.50" r="1.25"/><circle cx="109.42" cy="341.50" r="1.24"/><circle cx="110.09" cy="341.50" r="1.22"/><circle cx="110.77" cy="341.50" r="1.21"/><circle cx="111.45" cy="341.50" r="1.20"/><circle cx="112.13" cy="341.50" r="1.21"/><circle cx="112.81" cy="341.50" r="1.22"/><circle cx="113.48" cy="341.50" r="1.22"/><circle cx="114.16" cy="341.50" r="1.23"/><circle cx="114.84" cy="341.50" r="1.24"/><circle cx="115.52" cy="341.50" r="1.25"/><circle cx="116.19" cy="341.50" r="1.26"/><circle cx="116.87" cy="341.50" r="1.26"/><circle cx="117.55" cy="341.50" r="1.27"/><circle cx="118.22" cy="341.50" r="1.28"/><circle cx="118.90" cy="341.50" r="1.29"/><circle cx="119.58" cy="341.50" r="1.30"/><circle cx="120.26" cy="341.50" r="1.30"/><circle cx="120.94" cy="341.50" r="1.31"/><circle cx="121.61" cy="341.50" r="1.32"/><circle cx="122.29" cy="341.50" r="1.33"/><circle cx="122.97" cy="341.50" r="1.34"/><circle cx="123.64" cy="341.50" r="1.34"/><circle cx="124.32" cy="341.50" r="1.35"/><circle cx="125.00" cy="341.50" r="1.36"/></g>
<ellipse cx="147.2" cy="342.2" rx="15.5" ry="4.5" fill="#000" opacity="0.13" filter="url(#hb)"/>
<g fill="#000" opacity="0.55" filter="url(#sb)"><circle cx="133.20" cy="341.40" r="2.10"/><circle cx="133.87" cy="341.41" r="2.09"/><circle cx="134.53" cy="341.43" r="2.08"/><circle cx="135.20" cy="341.44" r="2.07"/><circle cx="135.87" cy="341.46" r="2.06"/><circle cx="136.53" cy="341.47" r="2.05"/><circle cx="137.20" cy="341.49" r="2.04"/><circle cx="137.87" cy="341.50" r="2.03"/><circle cx="138.53" cy="341.51" r="2.02"/><circle cx="139.20" cy="341.53" r="2.01"/><circle cx="139.87" cy="341.54" r="2.00"/><circle cx="140.53" cy="341.56" r="2.00"/><circle cx="141.20" cy="341.57" r="1.99"/><circle cx="141.87" cy="341.59" r="1.98"/><circle cx="142.53" cy="341.60" r="1.97"/><circle cx="143.20" cy="341.61" r="1.96"/><circle cx="143.87" cy="341.63" r="1.95"/><circle cx="144.53" cy="341.64" r="1.94"/><circle cx="145.20" cy="341.66" r="1.93"/><circle cx="145.87" cy="341.67" r="1.92"/><circle cx="146.53" cy="341.69" r="1.91"/><circle cx="147.20" cy="341.70" r="1.90"/><circle cx="147.87" cy="341.71" r="1.91"/><circle cx="148.53" cy="341.73" r="1.92"/><circle cx="149.20" cy="341.74" r="1.93"/><circle cx="149.87" cy="341.76" r="1.94"/><circle cx="150.53" cy="341.77" r="1.95"/><circle cx="151.20" cy="341.79" r="1.96"/><circle cx="151.87" cy="341.80" r="1.97"/><circle cx="152.53" cy="341.81" r="1.98"/><circle cx="153.20" cy="341.83" r="1.99"/><circle cx="153.87" cy="341.84" r="2.00"/><circle cx="154.53" cy="341.86" r="2.00"/><circle cx="155.20" cy="341.87" r="2.01"/><circle cx="155.87" cy="341.89" r="2.02"/><circle cx="156.53" cy="341.90" r="2.03"/><circle cx="157.20" cy="341.91" r="2.04"/><circle cx="157.87" cy="341.93" r="2.05"/><circle cx="158.53" cy="341.94" r="2.06"/><circle cx="159.20" cy="341.96" r="2.07"/><circle cx="159.87" cy="341.97" r="2.08"/><circle cx="160.53" cy="341.99" r="2.09"/><circle cx="161.20" cy="342.00" r="2.10"/></g>
<g fill="#000" opacity="1.0" filter="url(#cb)"><circle cx="133.20" cy="341.40" r="1.20"/><circle cx="133.87" cy="341.41" r="1.19"/><circle cx="134.53" cy="341.43" r="1.18"/><circle cx="135.20" cy="341.44" r="1.18"/><circle cx="135.87" cy="341.46" r="1.17"/><circle cx="136.53" cy="341.47" r="1.16"/><circle cx="137.20" cy="341.49" r="1.15"/><circle cx="137.87" cy="341.50" r="1.15"/><circle cx="138.53" cy="341.51" r="1.14"/><circle cx="139.20" cy="341.53" r="1.13"/><circle cx="139.87" cy="341.54" r="1.12"/><circle cx="140.53" cy="341.56" r="1.12"/><circle cx="141.20" cy="341.57" r="1.11"/><circle cx="141.87" cy="341.59" r="1.10"/><circle cx="142.53" cy="341.60" r="1.09"/><circle cx="143.20" cy="341.61" r="1.09"/><circle cx="143.87" cy="341.63" r="1.08"/><circle cx="144.53" cy="341.64" r="1.07"/><circle cx="145.20" cy="341.66" r="1.06"/><circle cx="145.87" cy="341.67" r="1.06"/><circle cx="146.53" cy="341.69" r="1.05"/><circle cx="147.20" cy="341.70" r="1.04"/><circle cx="147.87" cy="341.71" r="1.05"/><circle cx="148.53" cy="341.73" r="1.06"/><circle cx="149.20" cy="341.74" r="1.06"/><circle cx="149.87" cy="341.76" r="1.07"/><circle cx="150.53" cy="341.77" r="1.08"/><circle cx="151.20" cy="341.79" r="1.09"/><circle cx="151.87" cy="341.80" r="1.09"/><circle cx="152.53" cy="341.81" r="1.10"/><circle cx="153.20" cy="341.83" r="1.11"/><circle cx="153.87" cy="341.84" r="1.12"/><circle cx="154.53" cy="341.86" r="1.12"/><circle cx="155.20" cy="341.87" r="1.13"/><circle cx="155.87" cy="341.89" r="1.14"/><circle cx="156.53" cy="341.90" r="1.15"/><circle cx="157.20" cy="341.91" r="1.15"/><circle cx="157.87" cy="341.93" r="1.16"/><circle cx="158.53" cy="341.94" r="1.17"/><circle cx="159.20" cy="341.96" r="1.18"/><circle cx="159.87" cy="341.97" r="1.18"/><circle cx="160.53" cy="341.99" r="1.19"/><circle cx="161.20" cy="342.00" r="1.20"/></g>
<ellipse cx="182.85000000000002" cy="342.0" rx="16.049999999999997" ry="4.5" fill="#000" opacity="0.13" filter="url(#hb)"/>
<g fill="#000" opacity="0.55" filter="url(#sb)"><circle cx="168.30" cy="342.10" r="1.90"/><circle cx="168.98" cy="342.07" r="1.90"/><circle cx="169.65" cy="342.04" r="1.90"/><circle cx="170.33" cy="342.02" r="1.90"/><circle cx="171.01" cy="341.99" r="1.90"/><circle cx="171.68" cy="341.96" r="1.90"/><circle cx="172.36" cy="341.93" r="1.90"/><circle cx="173.04" cy="341.90" r="1.90"/><circle cx="173.71" cy="341.88" r="1.90"/><circle cx="174.39" cy="341.85" r="1.90"/><circle cx="175.07" cy="341.82" r="1.90"/><circle cx="175.74" cy="341.79" r="1.90"/><circle cx="176.42" cy="341.77" r="1.90"/><circle cx="177.10" cy="341.74" r="1.90"/><circle cx="177.77" cy="341.71" r="1.90"/><circle cx="178.45" cy="341.68" r="1.90"/><circle cx="179.13" cy="341.65" r="1.90"/><circle cx="179.80" cy="341.63" r="1.90"/><circle cx="180.48" cy="341.60" r="1.90"/><circle cx="181.16" cy="341.57" r="1.90"/><circle cx="181.83" cy="341.54" r="1.90"/><circle cx="182.51" cy="341.51" r="1.90"/><circle cx="183.19" cy="341.49" r="1.90"/><circle cx="183.87" cy="341.46" r="1.91"/><circle cx="184.54" cy="341.43" r="1.91"/><circle cx="185.22" cy="341.40" r="1.92"/><circle cx="185.90" cy="341.37" r="1.92"/><circle cx="186.57" cy="341.35" r="1.93"/><circle cx="187.25" cy="341.32" r="1.93"/><circle cx="187.93" cy="341.29" r="1.93"/><circle cx="188.60" cy="341.26" r="1.94"/><circle cx="189.28" cy="341.23" r="1.94"/><circle cx="189.96" cy="341.21" r="1.95"/><circle cx="190.63" cy="341.18" r="1.95"/><circle cx="191.31" cy="341.15" r="1.96"/><circle cx="191.99" cy="341.12" r="1.96"/><circle cx="192.66" cy="341.10" r="1.97"/><circle cx="193.34" cy="341.07" r="1.97"/><circle cx="194.02" cy="341.04" r="1.98"/><circle cx="194.69" cy="341.01" r="1.98"/><circle cx="195.37" cy="340.98" r="1.99"/><circle cx="196.05" cy="340.96" r="1.99"/><circle cx="196.72" cy="340.93" r="2.00"/><circle cx="197.40" cy="340.90" r="2.00"/></g>
<g fill="#000" opacity="1.0" filter="url(#cb)"><circle cx="168.30" cy="342.10" r="1.04"/><circle cx="168.98" cy="342.07" r="1.04"/><circle cx="169.65" cy="342.04" r="1.04"/><circle cx="170.33" cy="342.02" r="1.04"/><circle cx="171.01" cy="341.99" r="1.04"/><circle cx="171.68" cy="341.96" r="1.04"/><circle cx="172.36" cy="341.93" r="1.04"/><circle cx="173.04" cy="341.90" r="1.04"/><circle cx="173.71" cy="341.88" r="1.04"/><circle cx="174.39" cy="341.85" r="1.04"/><circle cx="175.07" cy="341.82" r="1.04"/><circle cx="175.74" cy="341.79" r="1.04"/><circle cx="176.42" cy="341.77" r="1.04"/><circle cx="177.10" cy="341.74" r="1.04"/><circle cx="177.77" cy="341.71" r="1.04"/><circle cx="178.45" cy="341.68" r="1.04"/><circle cx="179.13" cy="341.65" r="1.04"/><circle cx="179.80" cy="341.63" r="1.04"/><circle cx="180.48" cy="341.60" r="1.04"/><circle cx="181.16" cy="341.57" r="1.04"/><circle cx="181.83" cy="341.54" r="1.04"/><circle cx="182.51" cy="341.51" r="1.04"/><circle cx="183.19" cy="341.49" r="1.04"/><circle cx="183.87" cy="341.46" r="1.05"/><circle cx="184.54" cy="341.43" r="1.05"/><circle cx="185.22" cy="341.40" r="1.05"/><circle cx="185.90" cy="341.37" r="1.06"/><circle cx="186.57" cy="341.35" r="1.06"/><circle cx="187.25" cy="341.32" r="1.06"/><circle cx="187.93" cy="341.29" r="1.07"/><circle cx="188.60" cy="341.26" r="1.07"/><circle cx="189.28" cy="341.23" r="1.08"/><circle cx="189.96" cy="341.21" r="1.08"/><circle cx="190.63" cy="341.18" r="1.08"/><circle cx="191.31" cy="341.15" r="1.09"/><circle cx="191.99" cy="341.12" r="1.09"/><circle cx="192.66" cy="341.10" r="1.09"/><circle cx="193.34" cy="341.07" r="1.10"/><circle cx="194.02" cy="341.04" r="1.10"/><circle cx="194.69" cy="341.01" r="1.11"/><circle cx="195.37" cy="340.98" r="1.11"/><circle cx="196.05" cy="340.96" r="1.11"/><circle cx="196.72" cy="340.93" r="1.12"/><circle cx="197.40" cy="340.90" r="1.12"/></g>
<line x1="213.5" y1="44.900000000000006" x2="213.5" y2="137.2" stroke="#000" stroke-width="1.1"/>
<line x1="213.0" y1="136.6" x2="290.3" y2="136.6" stroke="#000" stroke-width="1.1"/>
<line x1="210.9" y1="136.6" x2="213.5" y2="136.6" stroke="#000" stroke-width="1.0"/>
<text x="211.1" y="138.9" font-size="6.6" text-anchor="end" font-weight="normal" fill="#333">0.0</text>
<line x1="210.9" y1="106.19999999999999" x2="213.5" y2="106.19999999999999" stroke="#000" stroke-width="1.0"/>
<text x="211.1" y="108.49999999999999" font-size="6.6" text-anchor="end" font-weight="normal" fill="#333">0.5</text>
<line x1="210.9" y1="75.8" x2="213.5" y2="75.8" stroke="#000" stroke-width="1.0"/>
<text x="211.1" y="78.1" font-size="6.6" text-anchor="end" font-weight="normal" fill="#333">1.0</text>
<line x1="210.9" y1="45.400000000000006" x2="213.5" y2="45.400000000000006" stroke="#000" stroke-width="1.0"/>
<text x="211.1" y="47.7" font-size="6.6" text-anchor="end" font-weight="normal" fill="#333">1.5</text>
<rect x="223.1" y="75.8" width="18.7" height="60.8" fill="#000"/>
<rect x="261.2" y="112.584" width="18.6" height="24.01599999999999" fill="#d3d3d3"/>
<line x1="232.45" y1="75.8" x2="232.45" y2="73.672" stroke="#000" stroke-width="1.2"/>
<line x1="228.5" y1="73.672" x2="236.4" y2="73.672" stroke="#000" stroke-width="1.2"/>
<line x1="270.5" y1="112.584" x2="270.5" y2="105.592" stroke="#666" stroke-width="1.3"/>
<line x1="266.2" y1="105.592" x2="274.8" y2="105.592" stroke="#000" stroke-width="1.2"/>
<text x="271.4" y="105.9" font-size="10.5" text-anchor="middle" font-weight="normal" fill="#111" letter-spacing="0.5" stroke="#111" stroke-width="0.25">**</text>
<line x1="232.4" y1="136.6" x2="232.4" y2="139.4" stroke="#000" stroke-width="1.0"/>
<line x1="270.7" y1="136.6" x2="270.7" y2="139.4" stroke="#000" stroke-width="1.0"/>
<text x="235.9" y="144.4" font-size="7.8" text-anchor="end" font-weight="normal" fill="#222" transform="rotate(-45 235.9 144.4)">si-Con</text>
<text x="273.7" y="145.2" font-size="7.7" text-anchor="end" font-weight="normal" fill="#222" transform="rotate(-45 273.7 145.2)">si-Eppk1</text>
<text x="187.5" y="90.8" font-size="7.5" text-anchor="middle" font-weight="normal" fill="#222" transform="rotate(-90 187.5 90.8)">Band density</text>
<text x="195.7" y="89.0" font-size="7.5" text-anchor="middle" font-weight="normal" fill="#222" transform="rotate(-90 195.7 89.0)">(relative to control)</text>
<line x1="243.6" y1="218.2" x2="243.6" y2="311.40000000000003" stroke="#000" stroke-width="1.2"/>
<line x1="243.0" y1="310.8" x2="314.5" y2="310.8" stroke="#000" stroke-width="1.3"/>
<line x1="241.79999999999998" y1="310.8" x2="243.6" y2="310.8" stroke="#000" stroke-width="0.9"/>
<text x="240.9" y="313.3" font-size="7.6" text-anchor="end" font-weight="normal" fill="#222" textLength="3.0" lengthAdjust="spacingAndGlyphs" stroke="#222" stroke-width="0.25">0</text>
<line x1="241.79999999999998" y1="274.0" x2="243.6" y2="274.0" stroke="#000" stroke-width="0.9"/>
<text x="240.9" y="276.5" font-size="7.6" text-anchor="end" font-weight="normal" fill="#222" textLength="3.0" lengthAdjust="spacingAndGlyphs" stroke="#222" stroke-width="0.25">1</text>
<line x1="241.79999999999998" y1="237.20000000000002" x2="243.6" y2="237.20000000000002" stroke="#000" stroke-width="0.9"/>
<text x="240.9" y="239.70000000000002" font-size="7.6" text-anchor="end" font-weight="normal" fill="#222" textLength="3.0" lengthAdjust="spacingAndGlyphs" stroke="#222" stroke-width="0.25">2</text>
<rect x="249.1" y="274.0" width="12.6" height="36.80000000000001" fill="#000"/>
<rect x="272.4" y="244.928" width="12.7" height="65.87200000000001" fill="#808080"/>
<rect x="296.1" y="281.728" width="12.8" height="29.072000000000003" fill="#d3d3d3"/>
<line x1="255.4" y1="274.0" x2="255.4" y2="271.05600000000004" stroke="#000" stroke-width="1.0"/>
<line x1="252.20000000000002" y1="271.05600000000004" x2="258.6" y2="271.05600000000004" stroke="#000" stroke-width="1.0"/>
<line x1="278.75" y1="244.928" x2="278.75" y2="241.24800000000002" stroke="#808080" stroke-width="1.0"/>
<line x1="275.55" y1="241.24800000000002" x2="281.95" y2="241.24800000000002" stroke="#808080" stroke-width="1.0"/>
<line x1="302.5" y1="281.728" x2="302.5" y2="274.368" stroke="#8a8a8a" stroke-width="1.0"/>
<line x1="299.3" y1="274.368" x2="305.7" y2="274.368" stroke="#8a8a8a" stroke-width="1.0"/>
<text x="279.4" y="240.8" font-size="9" text-anchor="middle" font-weight="normal" fill="#111" letter-spacing="0.4" stroke="#111" stroke-width="0.2">**</text>
<line x1="255.3" y1="310.8" x2="255.3" y2="313.0" stroke="#000" stroke-width="0.9"/>
<line x1="278.8" y1="310.8" x2="278.8" y2="313.0" stroke="#000" stroke-width="0.9"/>
<line x1="302.6" y1="310.8" x2="302.6" y2="313.0" stroke="#000" stroke-width="0.9"/>
<text x="257.0" y="322.5" font-size="6.6" text-anchor="end" font-weight="normal" fill="#222" transform="rotate(-34 257.0 322.5)">Ad-GFP</text>
<text x="282.2" y="323.0" font-size="6.6" text-anchor="end" font-weight="normal" fill="#222" transform="rotate(-33 282.2 323.0)">Ad-KLF5</text>
<text x="308.4" y="327.6" font-size="6.5" text-anchor="end" font-weight="normal" fill="#222" transform="rotate(-31 308.4 327.6)">Ad-KLF5+si-Eppk1</text>
<text x="224.2" y="265.2" font-size="6.4" text-anchor="middle" font-weight="normal" fill="#222" transform="rotate(-90 224.2 265.2)" textLength="44" lengthAdjust="spacingAndGlyphs">Band density</text>
<text x="231.5" y="265.2" font-size="6.4" text-anchor="middle" font-weight="normal" fill="#222" transform="rotate(-90 231.5 265.2)" textLength="64" lengthAdjust="spacingAndGlyphs">Normlized to β -actin</text>
<line x1="367.1" y1="32.9" x2="367.1" y2="147.89999999999998" stroke="#000" stroke-width="1.5"/>
<line x1="366.40000000000003" y1="147.2" x2="483.6" y2="147.2" stroke="#000" stroke-width="1.5"/>
<line x1="363.3" y1="147.2" x2="367.1" y2="147.2" stroke="#000" stroke-width="1.3"/>
<text x="0" y="0" font-size="8.8" text-anchor="end" fill="#222" transform="translate(362.60 150.59) scale(1 1.1)">0.0</text>
<line x1="363.3" y1="109.29999999999998" x2="367.1" y2="109.29999999999998" stroke="#000" stroke-width="1.3"/>
<text x="0" y="0" font-size="8.8" text-anchor="end" fill="#222" transform="translate(362.60 112.69) scale(1 1.1)">0.5</text>
<line x1="363.3" y1="71.39999999999999" x2="367.1" y2="71.39999999999999" stroke="#000" stroke-width="1.3"/>
<text x="0" y="0" font-size="8.8" text-anchor="end" fill="#222" transform="translate(362.60 74.79) scale(1 1.1)">1.0</text>
<line x1="363.3" y1="33.5" x2="367.1" y2="33.5" stroke="#000" stroke-width="1.3"/>
<text x="0" y="0" font-size="8.8" text-anchor="end" fill="#222" transform="translate(362.60 36.89) scale(1 1.1)">1.5</text>
<line x1="378.7" y1="147.2" x2="378.7" y2="151.0" stroke="#000" stroke-width="1.4"/>
<text x="0" y="0" font-size="8.8" text-anchor="middle" fill="#222" transform="translate(379.10 159.10) scale(1 1.1)">0</text>
<line x1="401.8" y1="147.2" x2="401.8" y2="151.0" stroke="#000" stroke-width="1.4"/>
<text x="0" y="0" font-size="8.8" text-anchor="middle" fill="#222" transform="translate(402.20 159.10) scale(1 1.1)">12</text>
<line x1="425.1" y1="147.2" x2="425.1" y2="151.0" stroke="#000" stroke-width="1.4"/>
<text x="0" y="0" font-size="8.8" text-anchor="middle" fill="#222" transform="translate(425.50 159.10) scale(1 1.1)">24</text>
<line x1="448.2" y1="147.2" x2="448.2" y2="151.0" stroke="#000" stroke-width="1.4"/>
<text x="0" y="0" font-size="8.8" text-anchor="middle" fill="#222" transform="translate(448.60 159.10) scale(1 1.1)">48</text>
<line x1="471.5" y1="147.2" x2="471.5" y2="151.0" stroke="#000" stroke-width="1.4"/>
<text x="0" y="0" font-size="8.8" text-anchor="middle" fill="#222" transform="translate(471.90 159.10) scale(1 1.1)">72</text>
<text x="415.8" y="173.3" font-size="9.7" text-anchor="middle" font-weight="normal" fill="#222">(h)</text>
<polyline points="378.7,133.935 401.8,126.43079999999999 425.1,115.8946 448.2,97.09619999999998 471.5,52.98059999999998" fill="none" stroke="#000" stroke-width="1.7" stroke-linejoin="round"/>
<line x1="378.7" y1="135.451" x2="378.7" y2="132.41899999999998" stroke="#000" stroke-width="1.2"/>
<line x1="376.3" y1="132.41899999999998" x2="381.09999999999997" y2="132.41899999999998" stroke="#000" stroke-width="1.2"/>
<line x1="376.3" y1="135.451" x2="381.09999999999997" y2="135.451" stroke="#000" stroke-width="1.2"/>
<path d="M378.7,131.52 L381.0,135.54500000000002 L376.4,135.54500000000002 Z" fill="#000"/>
<line x1="401.8" y1="128.70479999999998" x2="401.8" y2="124.15679999999999" stroke="#000" stroke-width="1.2"/>
<line x1="399.40000000000003" y1="124.15679999999999" x2="404.2" y2="124.15679999999999" stroke="#000" stroke-width="1.2"/>
<line x1="399.40000000000003" y1="128.70479999999998" x2="404.2" y2="128.70479999999998" stroke="#000" stroke-width="1.2"/>
<path d="M401.8,124.01579999999998 L404.1,128.0408 L399.5,128.0408 Z" fill="#000"/>
<line x1="425.1" y1="121.2006" x2="425.1" y2="110.58859999999999" stroke="#000" stroke-width="1.2"/>
<line x1="422.70000000000005" y1="110.58859999999999" x2="427.5" y2="110.58859999999999" stroke="#000" stroke-width="1.2"/>
<line x1="422.70000000000005" y1="121.2006" x2="427.5" y2="121.2006" stroke="#000" stroke-width="1.2"/>
<path d="M425.1,113.47959999999999 L427.40000000000003,117.5046 L422.8,117.5046 Z" fill="#000"/>
<line x1="448.2" y1="100.50719999999998" x2="448.2" y2="93.68519999999998" stroke="#000" stroke-width="1.2"/>
<line x1="445.8" y1="93.68519999999998" x2="450.59999999999997" y2="93.68519999999998" stroke="#000" stroke-width="1.2"/>
<line x1="445.8" y1="100.50719999999998" x2="450.59999999999997" y2="100.50719999999998" stroke="#000" stroke-width="1.2"/>
<path d="M448.2,94.68119999999998 L450.5,98.70619999999998 L445.9,98.70619999999998 Z" fill="#000"/>
<line x1="471.5" y1="58.89299999999999" x2="471.5" y2="47.068199999999976" stroke="#000" stroke-width="1.2"/>
<line x1="469.1" y1="47.068199999999976" x2="473.9" y2="47.068199999999976" stroke="#000" stroke-width="1.2"/>
<line x1="469.1" y1="58.89299999999999" x2="473.9" y2="58.89299999999999" stroke="#000" stroke-width="1.2"/>
<path d="M471.5,50.56559999999998 L473.8,54.59059999999998 L469.2,54.59059999999998 Z" fill="#000"/>
<polyline points="378.7,133.177 401.8,131.43359999999998 425.1,123.92939999999999 448.2,110.96759999999999 471.5,87.31799999999998" fill="none" stroke="#ff0000" stroke-width="1.7" stroke-linejoin="round"/>
<line x1="378.7" y1="134.69299999999998" x2="378.7" y2="131.661" stroke="#ff0000" stroke-width="1.2"/>
<line x1="376.3" y1="131.661" x2="381.09999999999997" y2="131.661" stroke="#ff0000" stroke-width="1.2"/>
<line x1="376.3" y1="134.69299999999998" x2="381.09999999999997" y2="134.69299999999998" stroke="#ff0000" stroke-width="1.2"/>
<rect x="376.515" y="130.992" width="4.369999999999999" height="4.369999999999999" fill="#ff0000"/>
<line x1="401.8" y1="133.70759999999999" x2="401.8" y2="129.15959999999998" stroke="#ff0000" stroke-width="1.2"/>
<line x1="399.40000000000003" y1="129.15959999999998" x2="404.2" y2="129.15959999999998" stroke="#ff0000" stroke-width="1.2"/>
<line x1="399.40000000000003" y1="133.70759999999999" x2="404.2" y2="133.70759999999999" stroke="#ff0000" stroke-width="1.2"/>
<rect x="399.615" y="129.24859999999998" width="4.369999999999999" height="4.369999999999999" fill="#ff0000"/>
<line x1="425.1" y1="127.7194" x2="425.1" y2="120.1394" stroke="#ff0000" stroke-width="1.2"/>
<line x1="422.70000000000005" y1="120.1394" x2="427.5" y2="120.1394" stroke="#ff0000" stroke-width="1.2"/>
<line x1="422.70000000000005" y1="127.7194" x2="427.5" y2="127.7194" stroke="#ff0000" stroke-width="1.2"/>
<rect x="422.915" y="121.74439999999998" width="4.369999999999999" height="4.369999999999999" fill="#ff0000"/>
<line x1="448.2" y1="116.27359999999999" x2="448.2" y2="105.66159999999999" stroke="#ff0000" stroke-width="1.2"/>
<line x1="445.8" y1="105.66159999999999" x2="450.59999999999997" y2="105.66159999999999" stroke="#ff0000" stroke-width="1.2"/>
<line x1="445.8" y1="116.27359999999999" x2="450.59999999999997" y2="116.27359999999999" stroke="#ff0000" stroke-width="1.2"/>
<rect x="446.015" y="108.78259999999999" width="4.369999999999999" height="4.369999999999999" fill="#ff0000"/>
<line x1="471.5" y1="91.33539999999999" x2="471.5" y2="83.30059999999997" stroke="#ff0000" stroke-width="1.2"/>
<line x1="469.1" y1="83.30059999999997" x2="473.9" y2="83.30059999999997" stroke="#ff0000" stroke-width="1.2"/>
<line x1="469.1" y1="91.33539999999999" x2="473.9" y2="91.33539999999999" stroke="#ff0000" stroke-width="1.2"/>
<rect x="469.315" y="85.13299999999998" width="4.369999999999999" height="4.369999999999999" fill="#ff0000"/>
<text x="471.79999999999995" y="85.2" font-size="13.5" text-anchor="middle" font-weight="normal" fill="#111" letter-spacing="0.9" stroke="#111" stroke-width="0.4">**</text>
<text x="448.59999999999997" y="108.2" font-size="13.5" text-anchor="middle" font-weight="normal" fill="#111" letter-spacing="0.9" stroke="#111" stroke-width="0.4">*</text>
<line x1="376.7" y1="50.7" x2="389.6" y2="50.7" stroke="#000" stroke-width="1.6"/>
<path d="M383.15,48.768 L384.98999999999995,51.988 L381.31,51.988 Z" fill="#000"/>
<text x="395.7" y="54.156000000000006" font-size="9.6" text-anchor="start" font-weight="normal" fill="#222">si-Con</text>
<line x1="376.0" y1="63.9" x2="388.8" y2="63.9" stroke="#ff0000" stroke-width="1.6"/>
<rect x="380.5" y="62.0" width="3.8" height="3.8" fill="#ff0000"/>
<text x="395.7" y="67.356" font-size="9.6" text-anchor="start" font-weight="normal" fill="#222">si-Eppk1</text>
<text x="383.6" y="31.8" font-size="10.6" text-anchor="start" font-weight="normal" fill="#222">Hela cell lines</text>
<text x="341.2" y="144.47" font-size="9.4" text-anchor="start" font-weight="normal" fill="#222" transform="rotate(-90 341.2 144.47)">Cell viability</text>
<text x="340.0" y="89.48" font-size="8.0" text-anchor="start" font-weight="normal" fill="#333" transform="rotate(-90 340.0 89.48)">(</text>
<text x="342.4" y="85.5" font-size="10.2" text-anchor="start" font-weight="normal" fill="#222" transform="rotate(-90 342.4 85.5)" textLength="14.3" lengthAdjust="spacingAndGlyphs">OD</text>
<text x="343.2" y="69.11999999999999" font-size="6.4" text-anchor="start" font-weight="normal" fill="#222" transform="rotate(-90 343.2 69.11999999999999)" textLength="23.2" lengthAdjust="spacingAndGlyphs">450nm</text>
<text x="340.0" y="45.18" font-size="8.0" text-anchor="start" font-weight="normal" fill="#333" transform="rotate(-90 340.0 45.18)">)</text>
<line x1="567.1" y1="31.000000000000007" x2="567.1" y2="145.7" stroke="#000" stroke-width="1.5"/>
<line x1="566.4" y1="145.0" x2="682.6" y2="145.0" stroke="#000" stroke-width="1.5"/>
<line x1="563.3000000000001" y1="145.0" x2="567.1" y2="145.0" stroke="#000" stroke-width="1.3"/>
<text x="0" y="0" font-size="8.8" text-anchor="end" fill="#222" transform="translate(562.60 148.39) scale(1 1.1)">0.0</text>
<line x1="563.3000000000001" y1="107.2" x2="567.1" y2="107.2" stroke="#000" stroke-width="1.3"/>
<text x="0" y="0" font-size="8.8" text-anchor="end" fill="#222" transform="translate(562.60 110.59) scale(1 1.1)">0.5</text>
<line x1="563.3000000000001" y1="69.4" x2="567.1" y2="69.4" stroke="#000" stroke-width="1.3"/>
<text x="0" y="0" font-size="8.8" text-anchor="end" fill="#222" transform="translate(562.60 72.79) scale(1 1.1)">1.0</text>
<line x1="563.3000000000001" y1="31.60000000000001" x2="567.1" y2="31.60000000000001" stroke="#000" stroke-width="1.3"/>
<text x="0" y="0" font-size="8.8" text-anchor="end" fill="#222" transform="translate(562.60 34.99) scale(1 1.1)">1.5</text>
<line x1="578.7" y1="145.0" x2="578.7" y2="148.8" stroke="#000" stroke-width="1.4"/>
<text x="0" y="0" font-size="8.8" text-anchor="middle" fill="#222" transform="translate(579.10 157.80) scale(1 1.1)">0</text>
<line x1="602.1" y1="145.0" x2="602.1" y2="148.8" stroke="#000" stroke-width="1.4"/>
<text x="0" y="0" font-size="8.8" text-anchor="middle" fill="#222" transform="translate(602.50 157.80) scale(1 1.1)">12</text>
<line x1="625.4" y1="145.0" x2="625.4" y2="148.8" stroke="#000" stroke-width="1.4"/>
<text x="0" y="0" font-size="8.8" text-anchor="middle" fill="#222" transform="translate(625.80 157.80) scale(1 1.1)">24</text>
<line x1="648.6" y1="145.0" x2="648.6" y2="148.8" stroke="#000" stroke-width="1.4"/>
<text x="0" y="0" font-size="8.8" text-anchor="middle" fill="#222" transform="translate(649.00 157.80) scale(1 1.1)">48</text>
<line x1="671.5" y1="145.0" x2="671.5" y2="148.8" stroke="#000" stroke-width="1.4"/>
<text x="0" y="0" font-size="8.8" text-anchor="middle" fill="#222" transform="translate(671.90 157.80) scale(1 1.1)">72</text>
<text x="625.1" y="171.5" font-size="9.7" text-anchor="middle" font-weight="normal" fill="#222">(h)</text>
<polyline points="578.7,133.9624 602.1,127.3096 625.4,116.1208 648.6,95.7844 671.5,56.0188" fill="none" stroke="#000" stroke-width="1.7" stroke-linejoin="round"/>
<line x1="578.7" y1="136.2304" x2="578.7" y2="131.6944" stroke="#000" stroke-width="1.2"/>
<line x1="576.3000000000001" y1="131.6944" x2="581.1" y2="131.6944" stroke="#000" stroke-width="1.2"/>
<line x1="576.3000000000001" y1="136.2304" x2="581.1" y2="136.2304" stroke="#000" stroke-width="1.2"/>
<circle cx="578.7" cy="133.9624" r="2.1" fill="#000"/>
<line x1="602.1" y1="128.8216" x2="602.1" y2="125.7976" stroke="#000" stroke-width="1.2"/>
<line x1="599.7" y1="125.7976" x2="604.5" y2="125.7976" stroke="#000" stroke-width="1.2"/>
<line x1="599.7" y1="128.8216" x2="604.5" y2="128.8216" stroke="#000" stroke-width="1.2"/>
<circle cx="602.1" cy="127.3096" r="2.1" fill="#000"/>
<line x1="625.4" y1="123.6808" x2="625.4" y2="108.5608" stroke="#000" stroke-width="1.2"/>
<line x1="623.0" y1="108.5608" x2="627.8" y2="108.5608" stroke="#000" stroke-width="1.2"/>
<line x1="623.0" y1="123.6808" x2="627.8" y2="123.6808" stroke="#000" stroke-width="1.2"/>
<circle cx="625.4" cy="116.1208" r="2.1" fill="#000"/>
<line x1="648.6" y1="103.87360000000001" x2="648.6" y2="87.6952" stroke="#000" stroke-width="1.2"/>
<line x1="646.2" y1="87.6952" x2="651.0" y2="87.6952" stroke="#000" stroke-width="1.2"/>
<line x1="646.2" y1="103.87360000000001" x2="651.0" y2="103.87360000000001" stroke="#000" stroke-width="1.2"/>
<circle cx="648.6" cy="95.7844" r="2.1" fill="#000"/>
<line x1="671.5" y1="61.386399999999995" x2="671.5" y2="50.6512" stroke="#000" stroke-width="1.2"/>
<line x1="669.1" y1="50.6512" x2="673.9" y2="50.6512" stroke="#000" stroke-width="1.2"/>
<line x1="669.1" y1="61.386399999999995" x2="673.9" y2="61.386399999999995" stroke="#000" stroke-width="1.2"/>
<circle cx="671.5" cy="56.0188" r="2.1" fill="#000"/>
<polyline points="578.7,129.502 602.1,127.7632 625.4,121.56400000000001 648.6,109.09 671.5,84.5956" fill="none" stroke="#ff0000" stroke-width="1.7" stroke-linejoin="round"/>
<line x1="578.7" y1="131.392" x2="578.7" y2="127.612" stroke="#ff0000" stroke-width="1.2"/>
<line x1="576.3000000000001" y1="127.612" x2="581.1" y2="127.612" stroke="#ff0000" stroke-width="1.2"/>
<line x1="576.3000000000001" y1="131.392" x2="581.1" y2="131.392" stroke="#ff0000" stroke-width="1.2"/>
<rect x="576.5150000000001" y="127.31700000000001" width="4.369999999999999" height="4.369999999999999" fill="#ff0000"/>
<line x1="602.1" y1="130.0312" x2="602.1" y2="125.4952" stroke="#ff0000" stroke-width="1.2"/>
<line x1="599.7" y1="125.4952" x2="604.5" y2="125.4952" stroke="#ff0000" stroke-width="1.2"/>
<line x1="599.7" y1="130.0312" x2="604.5" y2="130.0312" stroke="#ff0000" stroke-width="1.2"/>
<rect x="599.9150000000001" y="125.5782" width="4.369999999999999" height="4.369999999999999" fill="#ff0000"/>
<line x1="625.4" y1="125.5708" x2="625.4" y2="117.5572" stroke="#ff0000" stroke-width="1.2"/>
<line x1="623.0" y1="117.5572" x2="627.8" y2="117.5572" stroke="#ff0000" stroke-width="1.2"/>
<line x1="623.0" y1="125.5708" x2="627.8" y2="125.5708" stroke="#ff0000" stroke-width="1.2"/>
<rect x="623.215" y="119.379" width="4.369999999999999" height="4.369999999999999" fill="#ff0000"/>
<line x1="648.6" y1="115.28920000000001" x2="648.6" y2="102.89080000000001" stroke="#ff0000" stroke-width="1.2"/>
<line x1="646.2" y1="102.89080000000001" x2="651.0" y2="102.89080000000001" stroke="#ff0000" stroke-width="1.2"/>
<line x1="646.2" y1="115.28920000000001" x2="651.0" y2="115.28920000000001" stroke="#ff0000" stroke-width="1.2"/>
<rect x="646.4150000000001" y="106.905" width="4.369999999999999" height="4.369999999999999" fill="#ff0000"/>
<line x1="671.5" y1="88.3756" x2="671.5" y2="80.8156" stroke="#ff0000" stroke-width="1.2"/>
<line x1="669.1" y1="80.8156" x2="673.9" y2="80.8156" stroke="#ff0000" stroke-width="1.2"/>
<line x1="669.1" y1="88.3756" x2="673.9" y2="88.3756" stroke="#ff0000" stroke-width="1.2"/>
<rect x="669.315" y="82.4106" width="4.369999999999999" height="4.369999999999999" fill="#ff0000"/>
<text x="648.6" y="104.9" font-size="13.5" text-anchor="middle" font-weight="normal" fill="#111" letter-spacing="0.9" stroke="#111" stroke-width="0.4">**</text>
<text x="672.6999999999999" y="83.2" font-size="13.5" text-anchor="middle" font-weight="normal" fill="#111" letter-spacing="0.9" stroke="#111" stroke-width="0.4">***</text>
<line x1="571.7" y1="48.6" x2="584.0" y2="48.6" stroke="#000" stroke-width="1.6"/>
<circle cx="577.85" cy="48.6" r="1.8900000000000001" fill="#000"/>
<text x="590.9" y="52.056000000000004" font-size="9.6" text-anchor="start" font-weight="normal" fill="#222">si-Con</text>
<line x1="571.5" y1="61.7" x2="584.0" y2="61.7" stroke="#ff0000" stroke-width="1.6"/>
<rect x="575.85" y="59.800000000000004" width="3.8" height="3.8" fill="#ff0000"/>
<text x="590.9" y="65.156" font-size="9.6" text-anchor="start" font-weight="normal" fill="#222">si-Eppk1</text>
<text x="586.5" y="28.7" font-size="10.7" text-anchor="start" font-weight="normal" fill="#222">SiHa cell lines</text>
<text x="541.6" y="141.87" font-size="9.4" text-anchor="start" font-weight="normal" fill="#222" transform="rotate(-90 541.6 141.87)">Cell viability</text>
<text x="540.4" y="86.28" font-size="8.0" text-anchor="start" font-weight="normal" fill="#333" transform="rotate(-90 540.4 86.28)">(</text>
<text x="542.8000000000001" y="82.7" font-size="10.2" text-anchor="start" font-weight="normal" fill="#222" transform="rotate(-90 542.8000000000001 82.7)" textLength="13.5" lengthAdjust="spacingAndGlyphs">OD</text>
<text x="543.6" y="66.41999999999999" font-size="6.4" text-anchor="start" font-weight="normal" fill="#222" transform="rotate(-90 543.6 66.41999999999999)" textLength="22.7" lengthAdjust="spacingAndGlyphs">450nm</text>
<text x="540.4" y="42.879999999999995" font-size="8.0" text-anchor="start" font-weight="normal" fill="#333" transform="rotate(-90 540.4 42.879999999999995)">)</text>
<line x1="367.7" y1="230.1" x2="367.7" y2="349.9" stroke="#000" stroke-width="1.5"/>
<line x1="367.0" y1="349.2" x2="487.0" y2="349.2" stroke="#000" stroke-width="1.5"/>
<line x1="363.9" y1="349.2" x2="367.7" y2="349.2" stroke="#000" stroke-width="1.3"/>
<text x="0" y="0" font-size="9.5" text-anchor="end" fill="#222" transform="translate(363.20 352.86) scale(1 1.1)">0.0</text>
<line x1="363.9" y1="309.7" x2="367.7" y2="309.7" stroke="#000" stroke-width="1.3"/>
<text x="0" y="0" font-size="9.5" text-anchor="end" fill="#222" transform="translate(363.20 313.36) scale(1 1.1)">0.5</text>
<line x1="363.9" y1="270.2" x2="367.7" y2="270.2" stroke="#000" stroke-width="1.3"/>
<text x="0" y="0" font-size="9.5" text-anchor="end" fill="#222" transform="translate(363.20 273.86) scale(1 1.1)">1.0</text>
<line x1="363.9" y1="230.7" x2="367.7" y2="230.7" stroke="#000" stroke-width="1.3"/>
<text x="0" y="0" font-size="9.5" text-anchor="end" fill="#222" transform="translate(363.20 234.36) scale(1 1.1)">1.5</text>
<line x1="382.6" y1="349.2" x2="382.6" y2="353.0" stroke="#000" stroke-width="1.4"/>
<text x="0" y="0" font-size="9.5" text-anchor="middle" fill="#222" transform="translate(383.00 362.20) scale(1 1.1)">12</text>
<line x1="412.4" y1="349.2" x2="412.4" y2="353.0" stroke="#000" stroke-width="1.4"/>
<text x="0" y="0" font-size="9.5" text-anchor="middle" fill="#222" transform="translate(412.80 362.20) scale(1 1.1)">24</text>
<line x1="442.2" y1="349.2" x2="442.2" y2="353.0" stroke="#000" stroke-width="1.4"/>
<text x="0" y="0" font-size="9.5" text-anchor="middle" fill="#222" transform="translate(442.60 362.20) scale(1 1.1)">48</text>
<line x1="472.0" y1="349.2" x2="472.0" y2="353.0" stroke="#000" stroke-width="1.4"/>
<text x="0" y="0" font-size="9.5" text-anchor="middle" fill="#222" transform="translate(472.40 362.20) scale(1 1.1)">72</text>
<text x="416.2" y="375.6" font-size="9.7" text-anchor="middle" font-weight="normal" fill="#222">(h)</text>
<polyline points="382.6,336.79699999999997 412.4,328.897 442.2,313.176 472.0,280.312" fill="none" stroke="#000" stroke-width="1.25" stroke-linejoin="round"/>
<line x1="382.6" y1="337.98199999999997" x2="382.6" y2="335.61199999999997" stroke="#000" stroke-width="1.2"/>
<line x1="380.20000000000005" y1="335.61199999999997" x2="385.0" y2="335.61199999999997" stroke="#000" stroke-width="1.2"/>
<line x1="380.20000000000005" y1="337.98199999999997" x2="385.0" y2="337.98199999999997" stroke="#000" stroke-width="1.2"/>
<path d="M382.6,334.98575 L384.32500000000005,338.00449999999995 L380.875,338.00449999999995 Z" fill="#000"/>
<line x1="412.4" y1="330.082" x2="412.4" y2="327.712" stroke="#000" stroke-width="1.2"/>
<line x1="410.0" y1="327.712" x2="414.79999999999995" y2="327.712" stroke="#000" stroke-width="1.2"/>
<line x1="410.0" y1="330.082" x2="414.79999999999995" y2="330.082" stroke="#000" stroke-width="1.2"/>
<path d="M412.4,327.08575 L414.125,330.1045 L410.67499999999995,330.1045 Z" fill="#000"/>
<line x1="442.2" y1="315.546" x2="442.2" y2="310.806" stroke="#000" stroke-width="1.2"/>
<line x1="439.8" y1="310.806" x2="444.59999999999997" y2="310.806" stroke="#000" stroke-width="1.2"/>
<line x1="439.8" y1="315.546" x2="444.59999999999997" y2="315.546" stroke="#000" stroke-width="1.2"/>
<path d="M442.2,311.36475 L443.925,314.38349999999997 L440.47499999999997,314.38349999999997 Z" fill="#000"/>
<line x1="472.0" y1="283.709" x2="472.0" y2="276.91499999999996" stroke="#000" stroke-width="1.2"/>
<line x1="469.6" y1="276.91499999999996" x2="474.4" y2="276.91499999999996" stroke="#000" stroke-width="1.2"/>
<line x1="469.6" y1="283.709" x2="474.4" y2="283.709" stroke="#000" stroke-width="1.2"/>
<path d="M472.0,278.50075000000004 L473.725,281.5195 L470.275,281.5195 Z" fill="#000"/>
<polyline points="382.6,336.007 412.4,319.496 442.2,293.663 472.0,252.02999999999997" fill="none" stroke="#ff0000" stroke-width="1.25" stroke-linejoin="round"/>
<line x1="382.6" y1="337.192" x2="382.6" y2="334.822" stroke="#ff0000" stroke-width="1.2"/>
<line x1="380.20000000000005" y1="334.822" x2="385.0" y2="334.822" stroke="#ff0000" stroke-width="1.2"/>
<line x1="380.20000000000005" y1="337.192" x2="385.0" y2="337.192" stroke="#ff0000" stroke-width="1.2"/>
<path d="M382.6,334.19575000000003 L384.32500000000005,337.2145 L380.875,337.2145 Z" fill="#ff0000"/>
<line x1="412.4" y1="321.07599999999996" x2="412.4" y2="317.916" stroke="#ff0000" stroke-width="1.2"/>
<line x1="410.0" y1="317.916" x2="414.79999999999995" y2="317.916" stroke="#ff0000" stroke-width="1.2"/>
<line x1="410.0" y1="321.07599999999996" x2="414.79999999999995" y2="321.07599999999996" stroke="#ff0000" stroke-width="1.2"/>
<path d="M412.4,317.68475 L414.125,320.70349999999996 L410.67499999999995,320.70349999999996 Z" fill="#ff0000"/>
<line x1="442.2" y1="297.534" x2="442.2" y2="289.792" stroke="#ff0000" stroke-width="1.2"/>
<line x1="439.8" y1="289.792" x2="444.59999999999997" y2="289.792" stroke="#ff0000" stroke-width="1.2"/>
<line x1="439.8" y1="297.534" x2="444.59999999999997" y2="297.534" stroke="#ff0000" stroke-width="1.2"/>
<path d="M442.2,291.85175000000004 L443.925,294.8705 L440.47499999999997,294.8705 Z" fill="#ff0000"/>
<line x1="472.0" y1="257.56" x2="472.0" y2="246.5" stroke="#ff0000" stroke-width="1.2"/>
<line x1="469.6" y1="246.5" x2="474.4" y2="246.5" stroke="#ff0000" stroke-width="1.2"/>
<line x1="469.6" y1="257.56" x2="474.4" y2="257.56" stroke="#ff0000" stroke-width="1.2"/>
<path d="M472.0,250.21874999999997 L473.725,253.23749999999998 L470.275,253.23749999999998 Z" fill="#ff0000"/>
<polyline points="382.6,336.56 412.4,324.236 442.2,307.72499999999997 472.0,268.778" fill="none" stroke="#0000ff" stroke-width="1.25" stroke-linejoin="round"/>
<line x1="382.6" y1="337.745" x2="382.6" y2="335.375" stroke="#0000ff" stroke-width="1.2"/>
<line x1="380.20000000000005" y1="335.375" x2="385.0" y2="335.375" stroke="#0000ff" stroke-width="1.2"/>
<line x1="380.20000000000005" y1="337.745" x2="385.0" y2="337.745" stroke="#0000ff" stroke-width="1.2"/>
<rect x="380.795" y="334.755" width="3.61" height="3.61" fill="#0000ff"/>
<line x1="412.4" y1="327.39599999999996" x2="412.4" y2="321.07599999999996" stroke="#0000ff" stroke-width="1.2"/>
<line x1="410.0" y1="321.07599999999996" x2="414.79999999999995" y2="321.07599999999996" stroke="#0000ff" stroke-width="1.2"/>
<line x1="410.0" y1="327.39599999999996" x2="414.79999999999995" y2="327.39599999999996" stroke="#0000ff" stroke-width="1.2"/>
<rect x="410.59499999999997" y="322.431" width="3.61" height="3.61" fill="#0000ff"/>
<line x1="442.2" y1="310.885" x2="442.2" y2="304.565" stroke="#0000ff" stroke-width="1.2"/>
<line x1="439.8" y1="304.565" x2="444.59999999999997" y2="304.565" stroke="#0000ff" stroke-width="1.2"/>
<line x1="439.8" y1="310.885" x2="444.59999999999997" y2="310.885" stroke="#0000ff" stroke-width="1.2"/>
<rect x="440.395" y="305.91999999999996" width="3.61" height="3.61" fill="#0000ff"/>
<line x1="472.0" y1="275.256" x2="472.0" y2="262.29999999999995" stroke="#0000ff" stroke-width="1.2"/>
<line x1="469.6" y1="262.29999999999995" x2="474.4" y2="262.29999999999995" stroke="#0000ff" stroke-width="1.2"/>
<line x1="469.6" y1="275.256" x2="474.4" y2="275.256" stroke="#0000ff" stroke-width="1.2"/>
<rect x="470.195" y="266.973" width="3.61" height="3.61" fill="#0000ff"/>
<text x="442.4" y="290.0" font-size="13.5" text-anchor="middle" font-weight="normal" fill="#111" letter-spacing="0.9" stroke="#111" stroke-width="0.4">**</text>
<text x="471.9" y="249.5" font-size="13.5" text-anchor="middle" font-weight="normal" fill="#111" letter-spacing="0.9" stroke="#111" stroke-width="0.4">**</text>
<line x1="369.4" y1="207.6" x2="382.5" y2="207.6" stroke="#000" stroke-width="1.25"/>
<path d="M375.95,206.15099999999998 L377.33,208.566 L374.57,208.566 Z" fill="#000"/>
<text x="390.0" y="211.10999999999999" font-size="9.75" text-anchor="start" font-weight="normal" fill="#222">Ad-GFP</text>
<line x1="369.4" y1="221.3" x2="382.5" y2="221.3" stroke="#ff0000" stroke-width="1.25"/>
<path d="M375.95,219.851 L377.33,222.26600000000002 L374.57,222.26600000000002 Z" fill="#ff0000"/>
<text x="390.0" y="224.81" font-size="9.75" text-anchor="start" font-weight="normal" fill="#222">Ad-KLF5</text>
<line x1="369.4" y1="234.9" x2="382.5" y2="234.9" stroke="#0000ff" stroke-width="1.25"/>
<rect x="374.145" y="233.095" width="3.61" height="3.61" fill="#0000ff"/>
<text x="390.0" y="238.41" font-size="9.75" text-anchor="start" font-weight="normal" fill="#222">Ad-KLF5+si-Eppk1</text>
<text x="341.2" y="345.27500000000003" font-size="9.5" text-anchor="start" font-weight="normal" fill="#222" transform="rotate(-90 341.2 345.27500000000003)">Cell viability</text>
<text x="340.0" y="289.48" font-size="8.0" text-anchor="start" font-weight="normal" fill="#333" transform="rotate(-90 340.0 289.48)">(</text>
<text x="342.4" y="285.5" font-size="10.2" text-anchor="start" font-weight="normal" fill="#222" transform="rotate(-90 342.4 285.5)" textLength="14.3" lengthAdjust="spacingAndGlyphs">OD</text>
<text x="343.2" y="267.71999999999997" font-size="6.4" text-anchor="start" font-weight="normal" fill="#222" transform="rotate(-90 343.2 267.71999999999997)" textLength="23.3" lengthAdjust="spacingAndGlyphs">450nm</text>
<text x="340.0" y="243.07999999999998" font-size="8.0" text-anchor="start" font-weight="normal" fill="#333" transform="rotate(-90 340.0 243.07999999999998)">)</text>
<line x1="549.3" y1="227.1" x2="549.3" y2="349.0" stroke="#000" stroke-width="1.5"/>
<line x1="548.5999999999999" y1="348.3" x2="672.7" y2="348.3" stroke="#000" stroke-width="1.5"/>
<line x1="545.5" y1="348.3" x2="549.3" y2="348.3" stroke="#000" stroke-width="1.3"/>
<text x="0" y="0" font-size="9.5" text-anchor="end" fill="#222" transform="translate(544.80 351.96) scale(1 1.1)">0.0</text>
<line x1="545.5" y1="308.1" x2="549.3" y2="308.1" stroke="#000" stroke-width="1.3"/>
<text x="0" y="0" font-size="9.5" text-anchor="end" fill="#222" transform="translate(544.80 311.76) scale(1 1.1)">0.5</text>
<line x1="545.5" y1="267.9" x2="549.3" y2="267.9" stroke="#000" stroke-width="1.3"/>
<text x="0" y="0" font-size="9.5" text-anchor="end" fill="#222" transform="translate(544.80 271.56) scale(1 1.1)">1.0</text>
<line x1="545.5" y1="227.7" x2="549.3" y2="227.7" stroke="#000" stroke-width="1.3"/>
<text x="0" y="0" font-size="9.5" text-anchor="end" fill="#222" transform="translate(544.80 231.36) scale(1 1.1)">1.5</text>
<line x1="564.9" y1="348.3" x2="564.9" y2="352.1" stroke="#000" stroke-width="1.4"/>
<text x="0" y="0" font-size="9.5" text-anchor="middle" fill="#222" transform="translate(565.30 361.90) scale(1 1.1)">12</text>
<line x1="595.6" y1="348.3" x2="595.6" y2="352.1" stroke="#000" stroke-width="1.4"/>
<text x="0" y="0" font-size="9.5" text-anchor="middle" fill="#222" transform="translate(596.00 361.90) scale(1 1.1)">24</text>
<line x1="625.7" y1="348.3" x2="625.7" y2="352.1" stroke="#000" stroke-width="1.4"/>
<text x="0" y="0" font-size="9.5" text-anchor="middle" fill="#222" transform="translate(626.10 361.90) scale(1 1.1)">48</text>
<line x1="656.5" y1="348.3" x2="656.5" y2="352.1" stroke="#000" stroke-width="1.4"/>
<text x="0" y="0" font-size="9.5" text-anchor="middle" fill="#222" transform="translate(656.90 361.90) scale(1 1.1)">72</text>
<text x="610.1" y="375.6" font-size="9.7" text-anchor="middle" font-weight="normal" fill="#222">(h)</text>
<polyline points="564.9,335.59680000000003 595.6,329.0844 625.7,315.738 656.5,286.392" fill="none" stroke="#000" stroke-width="1.45" stroke-linejoin="round"/>
<line x1="564.9" y1="337.20480000000003" x2="564.9" y2="333.9888" stroke="#000" stroke-width="1.2"/>
<line x1="562.5" y1="333.9888" x2="567.3" y2="333.9888" stroke="#000" stroke-width="1.2"/>
<line x1="562.5" y1="337.20480000000003" x2="567.3" y2="337.20480000000003" stroke="#000" stroke-width="1.2"/>
<path d="M564.9,333.06105 L567.3149999999999,337.2873 L562.485,337.2873 Z" fill="#000"/>
<line x1="595.6" y1="330.6924" x2="595.6" y2="327.4764" stroke="#000" stroke-width="1.2"/>
<line x1="593.2" y1="327.4764" x2="598.0" y2="327.4764" stroke="#000" stroke-width="1.2"/>
<line x1="593.2" y1="330.6924" x2="598.0" y2="330.6924" stroke="#000" stroke-width="1.2"/>
<path d="M595.6,326.54865 L598.015,330.7749 L593.1850000000001,330.7749 Z" fill="#000"/>
<line x1="625.7" y1="318.15000000000003" x2="625.7" y2="313.326" stroke="#000" stroke-width="1.2"/>
<line x1="623.3000000000001" y1="313.326" x2="628.1" y2="313.326" stroke="#000" stroke-width="1.2"/>
<line x1="623.3000000000001" y1="318.15000000000003" x2="628.1" y2="318.15000000000003" stroke="#000" stroke-width="1.2"/>
<path d="M625.7,313.20225 L628.115,317.4285 L623.2850000000001,317.4285 Z" fill="#000"/>
<line x1="656.5" y1="292.824" x2="656.5" y2="279.96000000000004" stroke="#000" stroke-width="1.2"/>
<line x1="654.1" y1="279.96000000000004" x2="658.9" y2="279.96000000000004" stroke="#000" stroke-width="1.2"/>
<line x1="654.1" y1="292.824" x2="658.9" y2="292.824" stroke="#000" stroke-width="1.2"/>
<path d="M656.5,283.85625 L658.915,288.0825 L654.085,288.0825 Z" fill="#000"/>
<polyline points="564.9,334.7928 595.6,321.68760000000003 625.7,294.834 656.5,255.84000000000003" fill="none" stroke="#ff0000" stroke-width="1.45" stroke-linejoin="round"/>
<line x1="564.9" y1="336.4008" x2="564.9" y2="333.1848" stroke="#ff0000" stroke-width="1.2"/>
<line x1="562.5" y1="333.1848" x2="567.3" y2="333.1848" stroke="#ff0000" stroke-width="1.2"/>
<line x1="562.5" y1="336.4008" x2="567.3" y2="336.4008" stroke="#ff0000" stroke-width="1.2"/>
<circle cx="564.9" cy="334.7928" r="2.415" fill="#ff0000"/>
<line x1="595.6" y1="325.7076" x2="595.6" y2="317.6676" stroke="#ff0000" stroke-width="1.2"/>
<line x1="593.2" y1="317.6676" x2="598.0" y2="317.6676" stroke="#ff0000" stroke-width="1.2"/>
<line x1="593.2" y1="325.7076" x2="598.0" y2="325.7076" stroke="#ff0000" stroke-width="1.2"/>
<circle cx="595.6" cy="321.68760000000003" r="2.415" fill="#ff0000"/>
<line x1="625.7" y1="298.854" x2="625.7" y2="290.814" stroke="#ff0000" stroke-width="1.2"/>
<line x1="623.3000000000001" y1="290.814" x2="628.1" y2="290.814" stroke="#ff0000" stroke-width="1.2"/>
<line x1="623.3000000000001" y1="298.854" x2="628.1" y2="298.854" stroke="#ff0000" stroke-width="1.2"/>
<circle cx="625.7" cy="294.834" r="2.415" fill="#ff0000"/>
<line x1="656.5" y1="263.7996" x2="656.5" y2="247.8804" stroke="#ff0000" stroke-width="1.2"/>
<line x1="654.1" y1="247.8804" x2="658.9" y2="247.8804" stroke="#ff0000" stroke-width="1.2"/>
<line x1="654.1" y1="263.7996" x2="658.9" y2="263.7996" stroke="#ff0000" stroke-width="1.2"/>
<circle cx="656.5" cy="255.84000000000003" r="2.415" fill="#ff0000"/>
<polyline points="564.9,335.59680000000003 595.6,323.37600000000003 625.7,306.0096 656.5,276.42240000000004" fill="none" stroke="#0000ff" stroke-width="1.45" stroke-linejoin="round"/>
<line x1="564.9" y1="338.81280000000004" x2="564.9" y2="332.3808" stroke="#0000ff" stroke-width="1.2"/>
<line x1="562.5" y1="332.3808" x2="567.3" y2="332.3808" stroke="#0000ff" stroke-width="1.2"/>
<line x1="562.5" y1="338.81280000000004" x2="567.3" y2="338.81280000000004" stroke="#0000ff" stroke-width="1.2"/>
<rect x="562.62" y="333.31680000000006" width="4.56" height="4.56" fill="#0000ff"/>
<line x1="595.6" y1="329.808" x2="595.6" y2="316.944" stroke="#0000ff" stroke-width="1.2"/>
<line x1="593.2" y1="316.944" x2="598.0" y2="316.944" stroke="#0000ff" stroke-width="1.2"/>
<line x1="593.2" y1="329.808" x2="598.0" y2="329.808" stroke="#0000ff" stroke-width="1.2"/>
<rect x="593.32" y="321.09600000000006" width="4.56" height="4.56" fill="#0000ff"/>
<line x1="625.7" y1="312.0396" x2="625.7" y2="299.9796" stroke="#0000ff" stroke-width="1.2"/>
<line x1="623.3000000000001" y1="299.9796" x2="628.1" y2="299.9796" stroke="#0000ff" stroke-width="1.2"/>
<line x1="623.3000000000001" y1="312.0396" x2="628.1" y2="312.0396" stroke="#0000ff" stroke-width="1.2"/>
<rect x="623.4200000000001" y="303.7296" width="4.56" height="4.56" fill="#0000ff"/>
<line x1="656.5" y1="282.6132" x2="656.5" y2="270.2316" stroke="#0000ff" stroke-width="1.2"/>
<line x1="654.1" y1="270.2316" x2="658.9" y2="270.2316" stroke="#0000ff" stroke-width="1.2"/>
<line x1="654.1" y1="282.6132" x2="658.9" y2="282.6132" stroke="#0000ff" stroke-width="1.2"/>
<rect x="654.22" y="274.14240000000007" width="4.56" height="4.56" fill="#0000ff"/>
<text x="626.1999999999999" y="292.0" font-size="13.5" text-anchor="middle" font-weight="normal" fill="#111" letter-spacing="0.9" stroke="#111" stroke-width="0.4">*</text>
<text x="657.1999999999999" y="248.5" font-size="13.5" text-anchor="middle" font-weight="normal" fill="#111" letter-spacing="0.9" stroke="#111" stroke-width="0.4">**</text>
<line x1="556.1" y1="204.6" x2="569.3" y2="204.6" stroke="#000" stroke-width="1.45"/>
<path d="M562.7,202.06425 L565.115,206.29049999999998 L560.2850000000001,206.29049999999998 Z" fill="#000"/>
<text x="576.8" y="207.804" font-size="8.9" text-anchor="start" font-weight="normal" fill="#222">Ad-GFP</text>
<line x1="556.1" y1="219.2" x2="569.3" y2="219.2" stroke="#ff0000" stroke-width="1.45"/>
<circle cx="562.7" cy="219.2" r="2.415" fill="#ff0000"/>
<text x="576.8" y="222.404" font-size="8.9" text-anchor="start" font-weight="normal" fill="#222">Ad-KLF5</text>
<line x1="556.1" y1="230.9" x2="569.3" y2="230.9" stroke="#0000ff" stroke-width="1.45"/>
<rect x="560.4200000000001" y="228.62" width="4.56" height="4.56" fill="#0000ff"/>
<text x="576.8" y="234.104" font-size="8.9" text-anchor="start" font-weight="normal" fill="#222">Ad-KLF5+si-Eppk1</text>
<text x="522.4" y="343.685" font-size="9.7" text-anchor="start" font-weight="normal" fill="#222" transform="rotate(-90 522.4 343.685)">Cell viability</text>
<text x="521.1999999999999" y="286.08000000000004" font-size="8.0" text-anchor="start" font-weight="normal" fill="#333" transform="rotate(-90 521.1999999999999 286.08000000000004)">(</text>
<text x="523.6" y="282.7" font-size="10.2" text-anchor="start" font-weight="normal" fill="#222" transform="rotate(-90 523.6 282.7)" textLength="14.7" lengthAdjust="spacingAndGlyphs">OD</text>
<text x="524.4" y="264.21999999999997" font-size="6.4" text-anchor="start" font-weight="normal" fill="#222" transform="rotate(-90 524.4 264.21999999999997)" textLength="24.3" lengthAdjust="spacingAndGlyphs">450nm</text>
<text x="521.1999999999999" y="239.07999999999998" font-size="8.0" text-anchor="start" font-weight="normal" fill="#333" transform="rotate(-90 521.1999999999999 239.07999999999998)">)</text>
</svg>
</body></html>
